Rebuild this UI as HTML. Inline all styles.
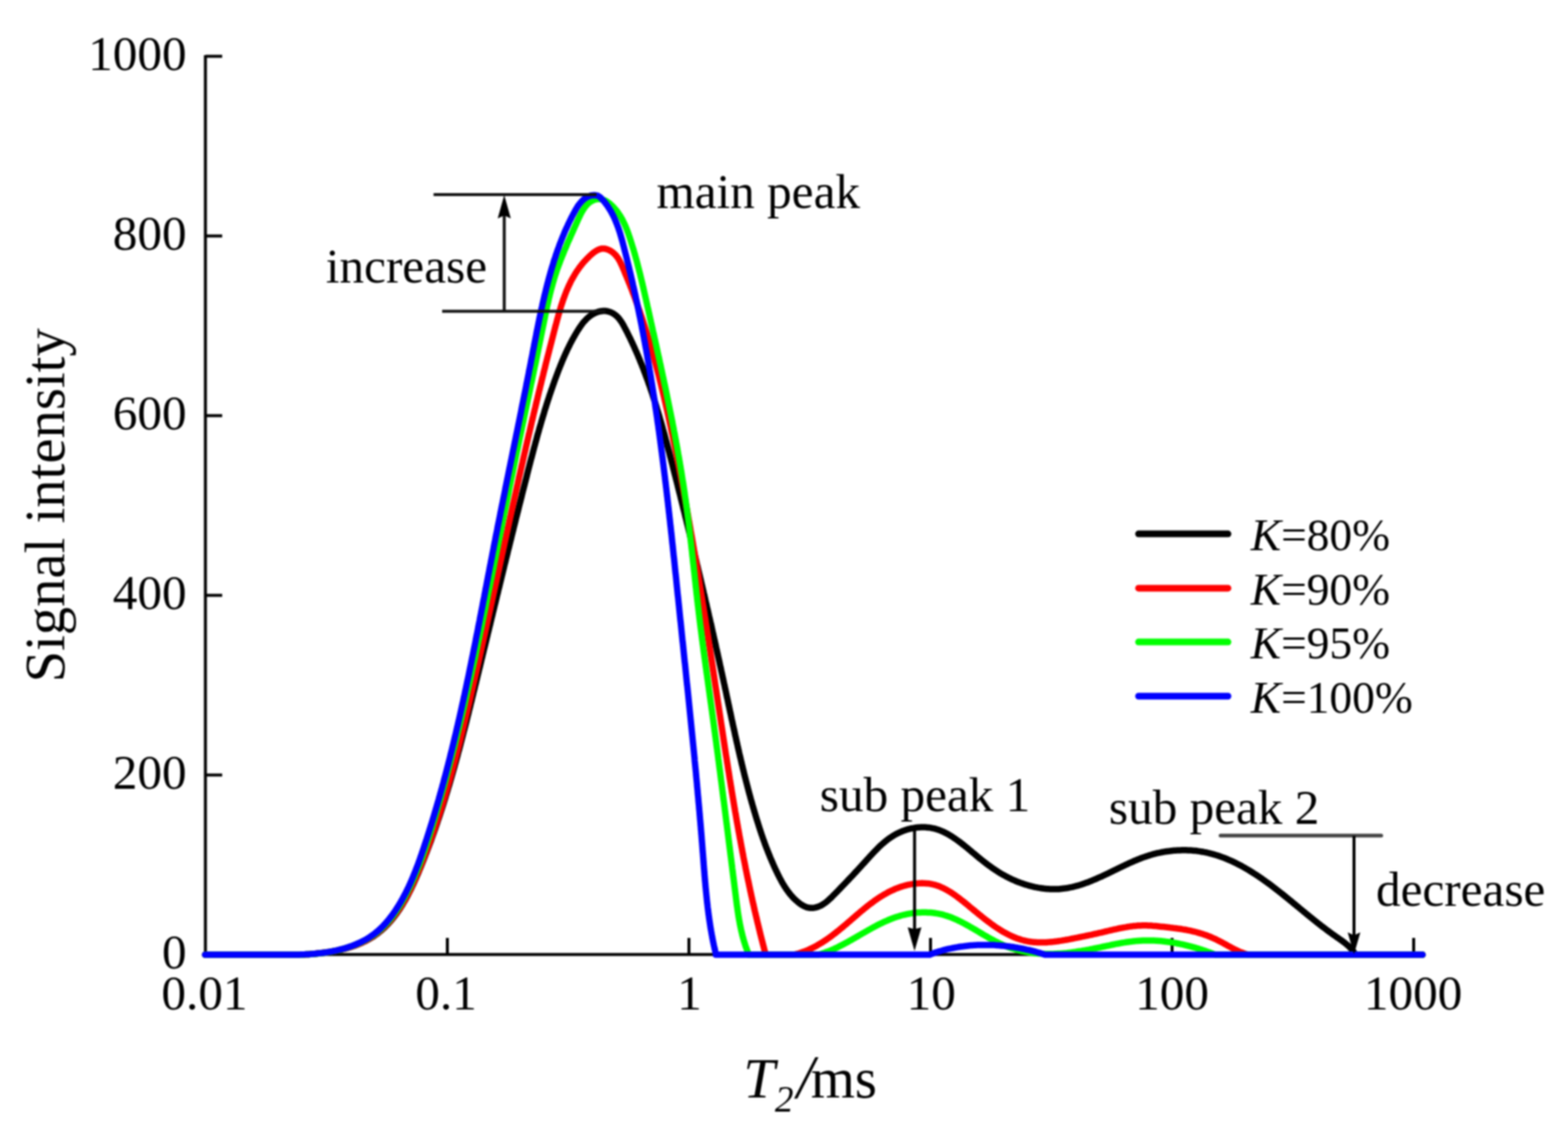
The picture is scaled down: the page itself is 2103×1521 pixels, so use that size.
<!DOCTYPE html>
<html><head><meta charset="utf-8"><title>T2 spectrum</title>
<style>html,body{margin:0;padding:0;background:#fff;width:2103px;height:1521px;overflow:hidden}svg{display:block}#wrap{filter:blur(1px)}</style>
</head><body><div id="wrap">
<svg width="2103" height="1521" viewBox="0 0 2103 1521">
<rect width="2103" height="1521" fill="#fff"/>
<g id="plot">
<path d="M275.5,74 V1280.3 H1897" fill="none" stroke="#000" stroke-width="4.0"/>
<path d="M275.5,1280.5 H298" stroke="#000" stroke-width="4.0"/>
<path d="M275.5,1039.5 H298" stroke="#000" stroke-width="4.0"/>
<path d="M275.5,798.5 H298" stroke="#000" stroke-width="4.0"/>
<path d="M275.5,557.5 H298" stroke="#000" stroke-width="4.0"/>
<path d="M275.5,316.5 H298" stroke="#000" stroke-width="4.0"/>
<path d="M275.5,75.5 H298" stroke="#000" stroke-width="4.0"/>
<path d="M600.0,1280.5 V1258" stroke="#000" stroke-width="4.0"/>
<path d="M924.0,1280.5 V1258" stroke="#000" stroke-width="4.0"/>
<path d="M1248.0,1280.5 V1258" stroke="#000" stroke-width="4.0"/>
<path d="M1572.0,1280.5 V1258" stroke="#000" stroke-width="4.0"/>
<path d="M1896.0,1280.5 V1258" stroke="#000" stroke-width="4.0"/>
<path d="M275.0,1280.5 L380.0,1280.5 L382.0,1280.5 L384.2,1280.5 L386.3,1280.5 L388.5,1280.5 L390.5,1280.5 L392.6,1280.5 L394.6,1280.5 L396.7,1280.5 L398.6,1280.4 L400.6,1280.4 L402.6,1280.4 L404.5,1280.3 L406.5,1280.2 L408.4,1280.2 L410.3,1280.1 L412.2,1280.0 L414.1,1279.9 L416.0,1279.8 L417.9,1279.7 L419.8,1279.5 L421.7,1279.4 L423.6,1279.2 L425.5,1279.0 L427.4,1278.8 L429.4,1278.6 L431.3,1278.4 L433.3,1278.1 L435.3,1277.9 L437.3,1277.6 L439.3,1277.3 L441.3,1277.0 L443.3,1276.6 L445.3,1276.3 L447.3,1275.9 L449.4,1275.5 L451.4,1275.1 L453.4,1274.7 L455.5,1274.2 L457.5,1273.7 L459.5,1273.2 L461.6,1272.7 L463.6,1272.2 L465.6,1271.6 L467.6,1271.0 L469.6,1270.4 L471.6,1269.8 L473.6,1269.1 L475.5,1268.4 L477.5,1267.7 L479.4,1267.0 L481.3,1266.2 L483.2,1265.4 L485.1,1264.6 L486.9,1263.7 L488.8,1262.9 L490.6,1262.0 L492.4,1261.0 L494.1,1260.1 L495.8,1259.1 L497.5,1258.1 L499.2,1257.0 L500.9,1256.0 L502.5,1254.8 L504.1,1253.7 L505.7,1252.6 L507.2,1251.4 L508.7,1250.2 L510.2,1249.0 L511.7,1247.7 L513.2,1246.4 L514.6,1245.1 L516.0,1243.8 L517.4,1242.4 L518.7,1241.1 L520.1,1239.7 L521.4,1238.3 L522.7,1236.8 L524.0,1235.4 L525.2,1233.9 L526.5,1232.4 L527.7,1230.9 L528.9,1229.4 L530.1,1227.8 L531.3,1226.2 L532.4,1224.7 L533.5,1223.1 L534.7,1221.4 L535.8,1219.8 L536.8,1218.2 L537.9,1216.5 L539.0,1214.8 L540.0,1213.1 L541.0,1211.4 L542.0,1209.7 L543.0,1208.0 L544.0,1206.3 L545.0,1204.5 L545.9,1202.8 L546.9,1201.0 L547.8,1199.2 L548.7,1197.4 L549.6,1195.6 L550.5,1193.8 L551.4,1192.0 L552.3,1190.2 L553.1,1188.3 L554.0,1186.5 L554.9,1184.7 L555.7,1182.8 L556.5,1181.0 L557.4,1179.1 L558.2,1177.3 L559.0,1175.4 L559.8,1173.5 L560.6,1171.7 L561.4,1169.8 L562.2,1167.9 L562.9,1166.0 L563.7,1164.2 L564.5,1162.3 L565.3,1160.4 L566.0,1158.5 L566.8,1156.6 L567.5,1154.8 L568.3,1152.9 L569.0,1151.0 L569.8,1149.1 L570.5,1147.2 L571.2,1145.3 L572.0,1143.5 L572.7,1141.6 L573.4,1139.7 L574.1,1137.8 L574.9,1135.9 L575.6,1134.0 L576.3,1132.1 L577.0,1130.2 L577.7,1128.4 L578.4,1126.5 L579.0,1124.6 L579.7,1122.7 L580.4,1120.8 L581.1,1118.9 L581.8,1117.0 L582.4,1115.1 L583.1,1113.2 L583.8,1111.3 L584.4,1109.4 L585.1,1107.5 L585.7,1105.6 L586.4,1103.7 L587.0,1101.8 L587.6,1099.9 L588.3,1098.0 L588.9,1096.1 L589.6,1094.2 L590.2,1092.3 L590.8,1090.4 L591.4,1088.5 L592.0,1086.6 L592.7,1084.7 L593.3,1082.8 L593.9,1080.9 L594.5,1079.0 L595.1,1077.1 L595.7,1075.1 L596.3,1073.2 L596.9,1071.3 L597.5,1069.4 L598.0,1067.5 L598.6,1065.6 L599.2,1063.7 L599.8,1061.8 L600.4,1059.9 L600.9,1057.9 L601.5,1056.0 L602.1,1054.1 L602.7,1052.2 L603.2,1050.3 L603.8,1048.4 L604.3,1046.5 L604.9,1044.5 L605.4,1042.6 L606.0,1040.7 L606.5,1038.8 L607.1,1036.9 L607.6,1034.9 L608.2,1033.0 L608.7,1031.1 L609.3,1029.2 L609.8,1027.3 L610.3,1025.3 L610.9,1023.4 L611.4,1021.5 L611.9,1019.6 L612.4,1017.7 L613.0,1015.7 L613.5,1013.8 L614.0,1011.9 L614.5,1010.0 L615.0,1008.0 L615.6,1006.1 L616.1,1004.2 L616.6,1002.2 L617.1,1000.3 L617.6,998.4 L618.1,996.5 L618.6,994.5 L619.1,992.6 L619.6,990.7 L620.1,988.7 L620.6,986.8 L621.1,984.9 L621.6,982.9 L622.1,981.0 L622.6,979.1 L623.1,977.2 L623.6,975.2 L624.1,973.3 L624.6,971.4 L625.1,969.4 L625.6,967.5 L626.0,965.6 L626.5,963.6 L627.0,961.7 L627.5,959.7 L628.0,957.8 L628.5,955.9 L628.9,953.9 L629.4,952.0 L629.9,950.1 L630.4,948.1 L630.9,946.2 L631.3,944.2 L631.8,942.3 L632.3,940.4 L632.8,938.4 L633.2,936.5 L633.7,934.6 L634.2,932.6 L634.7,930.7 L635.1,928.7 L635.6,926.8 L636.1,924.9 L636.6,922.9 L637.0,921.0 L637.5,919.0 L638.0,917.1 L638.5,915.1 L638.9,913.2 L639.4,911.3 L639.9,909.3 L640.3,907.4 L640.8,905.4 L641.3,903.5 L641.8,901.5 L642.2,899.6 L642.7,897.7 L643.2,895.7 L643.7,893.8 L644.1,891.8 L644.6,889.9 L645.1,887.9 L645.5,886.0 L646.0,884.0 L646.5,882.1 L647.0,880.1 L647.4,878.2 L647.9,876.3 L648.4,874.3 L648.8,872.4 L649.3,870.4 L649.8,868.5 L650.3,866.5 L650.7,864.6 L651.2,862.6 L651.7,860.7 L652.2,858.7 L652.6,856.8 L653.1,854.8 L653.6,852.9 L654.0,850.9 L654.5,849.0 L655.0,847.0 L655.5,845.1 L655.9,843.1 L656.4,841.2 L656.9,839.2 L657.4,837.3 L657.8,835.3 L658.3,833.4 L658.8,831.5 L659.2,829.5 L659.7,827.6 L660.2,825.6 L660.7,823.7 L661.1,821.7 L661.6,819.8 L662.1,817.8 L662.6,815.9 L663.0,813.9 L663.5,812.0 L664.0,810.0 L664.5,808.1 L664.9,806.1 L665.4,804.2 L665.9,802.2 L666.3,800.3 L666.8,798.3 L667.3,796.4 L667.8,794.4 L668.2,792.5 L668.7,790.5 L669.2,788.6 L669.7,786.6 L670.2,784.7 L670.6,782.7 L671.1,780.8 L671.6,778.8 L672.1,776.8 L672.5,774.9 L673.0,772.9 L673.5,771.0 L674.0,769.0 L674.4,767.1 L674.9,765.1 L675.4,763.2 L675.9,761.2 L676.3,759.3 L676.8,757.3 L677.3,755.4 L677.8,753.4 L678.3,751.5 L678.7,749.5 L679.2,747.6 L679.7,745.6 L680.2,743.7 L680.7,741.7 L681.1,739.8 L681.6,737.8 L682.1,735.9 L682.6,733.9 L683.1,732.0 L683.5,730.1 L684.0,728.1 L684.5,726.2 L685.0,724.2 L685.5,722.3 L685.9,720.3 L686.4,718.4 L686.9,716.4 L687.4,714.5 L687.9,712.5 L688.4,710.6 L688.8,708.6 L689.3,706.7 L689.8,704.7 L690.3,702.8 L690.8,700.8 L691.3,698.9 L691.7,696.9 L692.2,695.0 L692.7,693.0 L693.2,691.1 L693.7,689.1 L694.2,687.2 L694.7,685.3 L695.2,683.3 L695.6,681.4 L696.1,679.4 L696.6,677.5 L697.1,675.5 L697.6,673.6 L698.1,671.6 L698.6,669.7 L699.1,667.7 L699.6,665.8 L700.0,663.9 L700.5,661.9 L701.0,660.0 L701.5,658.0 L702.0,656.1 L702.5,654.1 L703.0,652.2 L703.5,650.3 L704.0,648.3 L704.5,646.4 L705.0,644.4 L705.5,642.5 L706.0,640.5 L706.5,638.6 L706.9,636.7 L707.4,634.7 L707.9,632.8 L708.4,630.8 L708.9,628.9 L709.4,627.0 L709.9,625.0 L710.4,623.1 L710.9,621.1 L711.4,619.2 L711.9,617.3 L712.4,615.3 L713.0,613.4 L713.5,611.5 L714.0,609.5 L714.5,607.6 L715.0,605.7 L715.5,603.7 L716.0,601.8 L716.5,599.9 L717.1,597.9 L717.6,596.0 L718.1,594.1 L718.6,592.1 L719.2,590.2 L719.7,588.3 L720.2,586.4 L720.7,584.4 L721.3,582.5 L721.8,580.6 L722.4,578.7 L722.9,576.7 L723.4,574.8 L724.0,572.9 L724.6,571.0 L725.1,569.1 L725.7,567.1 L726.2,565.2 L726.8,563.3 L727.4,561.4 L727.9,559.5 L728.5,557.6 L729.1,555.7 L729.7,553.7 L730.2,551.8 L730.8,549.9 L731.4,548.0 L732.0,546.1 L732.6,544.2 L733.2,542.3 L733.8,540.4 L734.4,538.5 L735.0,536.6 L735.7,534.7 L736.3,532.8 L736.9,530.9 L737.5,529.0 L738.2,527.1 L738.8,525.2 L739.5,523.3 L740.1,521.5 L740.8,519.6 L741.4,517.7 L742.1,515.8 L742.8,513.9 L743.4,512.0 L744.1,510.1 L744.8,508.3 L745.5,506.4 L746.2,504.5 L746.9,502.6 L747.6,500.8 L748.3,498.9 L749.0,497.0 L749.7,495.2 L750.5,493.3 L751.2,491.4 L752.0,489.6 L752.7,487.7 L753.5,485.9 L754.2,484.0 L755.0,482.2 L755.8,480.3 L756.6,478.5 L757.4,476.7 L758.2,474.8 L759.1,473.0 L759.9,471.2 L760.7,469.4 L761.6,467.6 L762.5,465.8 L763.4,464.0 L764.3,462.2 L765.2,460.4 L766.1,458.6 L767.1,456.8 L768.0,455.0 L769.0,453.3 L770.0,451.5 L771.0,449.8 L772.0,448.0 L773.1,446.3 L774.1,444.5 L775.2,442.8 L776.3,441.1 L777.4,439.4 L778.5,437.7 L779.7,436.1 L780.9,434.4 L782.1,432.8 L783.4,431.3 L784.8,429.8 L786.2,428.3 L787.6,426.9 L789.1,425.6 L790.7,424.3 L792.3,423.1 L794.0,422.0 L795.8,421.0 L797.7,420.0 L799.5,419.2 L801.5,418.5 L803.4,417.9 L805.4,417.5 L807.4,417.2 L809.4,417.0 L811.4,417.1 L813.4,417.3 L815.3,417.6 L817.2,418.2 L819.1,418.8 L820.9,419.7 L822.6,420.6 L824.3,421.7 L825.8,422.9 L827.2,424.1 L828.6,425.5 L829.9,426.9 L831.1,428.5 L832.3,430.1 L833.4,431.7 L834.5,433.4 L835.5,435.1 L836.5,436.9 L837.4,438.7 L838.4,440.5 L839.3,442.3 L840.3,444.1 L841.2,445.9 L842.1,447.8 L843.0,449.6 L843.9,451.4 L844.8,453.2 L845.7,455.0 L846.5,456.9 L847.4,458.7 L848.3,460.5 L849.1,462.4 L850.0,464.2 L850.8,466.0 L851.6,467.9 L852.4,469.7 L853.3,471.6 L854.1,473.4 L854.9,475.3 L855.7,477.1 L856.4,479.0 L857.2,480.8 L858.0,482.7 L858.7,484.6 L859.5,486.4 L860.3,488.3 L861.0,490.1 L861.7,492.0 L862.5,493.9 L863.2,495.8 L863.9,497.6 L864.6,499.5 L865.3,501.4 L866.0,503.3 L866.7,505.1 L867.4,507.0 L868.1,508.9 L868.8,510.8 L869.5,512.7 L870.1,514.6 L870.8,516.4 L871.5,518.3 L872.1,520.2 L872.7,522.1 L873.4,524.0 L874.0,525.9 L874.7,527.8 L875.3,529.7 L875.9,531.6 L876.5,533.5 L877.1,535.4 L877.8,537.3 L878.4,539.2 L879.0,541.1 L879.6,543.0 L880.2,544.9 L880.7,546.9 L881.3,548.8 L881.9,550.7 L882.5,552.6 L883.1,554.5 L883.6,556.4 L884.2,558.3 L884.8,560.3 L885.3,562.2 L885.9,564.1 L886.4,566.0 L887.0,567.9 L887.5,569.9 L888.1,571.8 L888.6,573.7 L889.1,575.6 L889.7,577.6 L890.2,579.5 L890.7,581.4 L891.3,583.3 L891.8,585.3 L892.3,587.2 L892.8,589.1 L893.4,591.1 L893.9,593.0 L894.4,594.9 L894.9,596.9 L895.4,598.8 L895.9,600.7 L896.4,602.7 L897.0,604.6 L897.5,606.5 L898.0,608.5 L898.5,610.4 L899.0,612.3 L899.5,614.3 L900.0,616.2 L900.5,618.1 L901.0,620.1 L901.5,622.0 L902.0,624.0 L902.5,625.9 L902.9,627.8 L903.4,629.8 L903.9,631.7 L904.4,633.6 L904.9,635.6 L905.4,637.5 L905.9,639.5 L906.4,641.4 L906.9,643.3 L907.4,645.3 L907.9,647.2 L908.4,649.2 L908.9,651.1 L909.3,653.0 L909.8,655.0 L910.3,656.9 L910.8,658.9 L911.3,660.8 L911.8,662.7 L912.3,664.7 L912.8,666.6 L913.2,668.6 L913.7,670.5 L914.2,672.4 L914.7,674.4 L915.2,676.3 L915.7,678.3 L916.1,680.2 L916.6,682.1 L917.1,684.1 L917.6,686.0 L918.1,688.0 L918.6,689.9 L919.0,691.9 L919.5,693.8 L920.0,695.7 L920.5,697.7 L921.0,699.6 L921.4,701.6 L921.9,703.5 L922.4,705.5 L922.9,707.4 L923.3,709.3 L923.8,711.3 L924.3,713.2 L924.8,715.2 L925.2,717.1 L925.7,719.1 L926.2,721.0 L926.7,723.0 L927.1,724.9 L927.6,726.8 L928.1,728.8 L928.5,730.7 L929.0,732.7 L929.5,734.6 L930.0,736.6 L930.4,738.5 L930.9,740.5 L931.4,742.4 L931.8,744.4 L932.3,746.3 L932.8,748.2 L933.2,750.2 L933.7,752.1 L934.2,754.1 L934.6,756.0 L935.1,758.0 L935.6,759.9 L936.0,761.9 L936.5,763.8 L936.9,765.8 L937.4,767.7 L937.9,769.7 L938.3,771.6 L938.8,773.6 L939.3,775.5 L939.7,777.5 L940.2,779.4 L940.6,781.4 L941.1,783.3 L941.5,785.3 L942.0,787.2 L942.5,789.2 L942.9,791.1 L943.4,793.1 L943.8,795.0 L944.3,797.0 L944.7,798.9 L945.2,800.9 L945.6,802.8 L946.1,804.8 L946.5,806.7 L947.0,808.7 L947.4,810.6 L947.9,812.6 L948.3,814.5 L948.8,816.5 L949.2,818.4 L949.7,820.4 L950.1,822.3 L950.6,824.3 L951.0,826.2 L951.5,828.2 L951.9,830.1 L952.4,832.1 L952.8,834.0 L953.3,836.0 L953.7,837.9 L954.2,839.9 L954.6,841.9 L955.0,843.8 L955.5,845.8 L955.9,847.7 L956.4,849.7 L956.8,851.6 L957.2,853.6 L957.7,855.5 L958.1,857.5 L958.6,859.4 L959.0,861.4 L959.4,863.4 L959.9,865.3 L960.3,867.3 L960.7,869.2 L961.2,871.2 L961.6,873.1 L962.0,875.1 L962.5,877.1 L962.9,879.0 L963.3,881.0 L963.8,882.9 L964.2,884.9 L964.6,886.8 L965.1,888.8 L965.5,890.8 L965.9,892.7 L966.4,894.7 L966.8,896.6 L967.2,898.6 L967.6,900.5 L968.1,902.5 L968.5,904.5 L968.9,906.4 L969.3,908.4 L969.8,910.3 L970.2,912.3 L970.6,914.3 L971.0,916.2 L971.5,918.2 L971.9,920.1 L972.3,922.1 L972.7,924.1 L973.2,926.0 L973.6,928.0 L974.0,929.9 L974.4,931.9 L974.8,933.9 L975.2,935.8 L975.7,937.8 L976.1,939.7 L976.5,941.7 L976.9,943.7 L977.3,945.6 L977.8,947.6 L978.2,949.6 L978.6,951.5 L979.0,953.5 L979.4,955.4 L979.9,957.4 L980.3,959.4 L980.7,961.3 L981.1,963.3 L981.5,965.2 L982.0,967.2 L982.4,969.2 L982.8,971.1 L983.2,973.1 L983.7,975.0 L984.1,977.0 L984.5,978.9 L985.0,980.9 L985.4,982.9 L985.8,984.8 L986.2,986.8 L986.7,988.7 L987.1,990.7 L987.5,992.6 L988.0,994.6 L988.4,996.6 L988.9,998.5 L989.3,1000.5 L989.7,1002.4 L990.2,1004.4 L990.6,1006.3 L991.1,1008.3 L991.5,1010.2 L992.0,1012.2 L992.4,1014.1 L992.9,1016.1 L993.4,1018.0 L993.8,1020.0 L994.3,1021.9 L994.7,1023.9 L995.2,1025.8 L995.7,1027.7 L996.1,1029.7 L996.6,1031.6 L997.1,1033.6 L997.6,1035.5 L998.0,1037.5 L998.5,1039.4 L999.0,1041.3 L999.5,1043.3 L1000.0,1045.2 L1000.5,1047.2 L1001.0,1049.1 L1001.5,1051.0 L1002.0,1053.0 L1002.5,1054.9 L1003.0,1056.8 L1003.5,1058.8 L1004.0,1060.7 L1004.5,1062.6 L1005.0,1064.5 L1005.6,1066.5 L1006.1,1068.4 L1006.6,1070.3 L1007.1,1072.3 L1007.7,1074.2 L1008.2,1076.1 L1008.8,1078.0 L1009.3,1079.9 L1009.9,1081.9 L1010.4,1083.8 L1011.0,1085.7 L1011.5,1087.6 L1012.1,1089.5 L1012.7,1091.4 L1013.2,1093.3 L1013.8,1095.3 L1014.4,1097.2 L1015.0,1099.1 L1015.6,1101.0 L1016.2,1102.9 L1016.8,1104.8 L1017.4,1106.7 L1018.0,1108.6 L1018.6,1110.5 L1019.2,1112.4 L1019.8,1114.3 L1020.5,1116.2 L1021.1,1118.1 L1021.7,1119.9 L1022.4,1121.8 L1023.0,1123.7 L1023.7,1125.6 L1024.4,1127.5 L1025.1,1129.4 L1025.7,1131.3 L1026.4,1133.1 L1027.1,1135.0 L1027.8,1136.9 L1028.6,1138.7 L1029.3,1140.6 L1030.0,1142.5 L1030.8,1144.4 L1031.5,1146.2 L1032.3,1148.1 L1033.0,1149.9 L1033.8,1151.8 L1034.6,1153.6 L1035.4,1155.5 L1036.2,1157.3 L1037.0,1159.2 L1037.8,1161.0 L1038.7,1162.9 L1039.5,1164.7 L1040.4,1166.6 L1041.2,1168.4 L1042.1,1170.2 L1043.0,1172.1 L1043.9,1173.9 L1044.8,1175.7 L1045.7,1177.5 L1046.7,1179.3 L1047.7,1181.1 L1048.6,1182.9 L1049.6,1184.6 L1050.7,1186.4 L1051.7,1188.1 L1052.8,1189.8 L1053.9,1191.5 L1055.0,1193.1 L1056.2,1194.8 L1057.4,1196.4 L1058.6,1198.0 L1059.8,1199.5 L1061.1,1201.0 L1062.4,1202.5 L1063.8,1204.0 L1065.2,1205.4 L1066.6,1206.8 L1068.1,1208.1 L1069.6,1209.4 L1071.1,1210.7 L1072.7,1211.9 L1074.3,1213.0 L1076.0,1214.1 L1077.7,1215.0 L1079.5,1215.9 L1081.3,1216.6 L1083.1,1217.2 L1085.0,1217.6 L1086.9,1217.8 L1088.8,1217.8 L1090.7,1217.7 L1092.7,1217.4 L1094.6,1217.0 L1096.5,1216.4 L1098.4,1215.7 L1100.3,1214.9 L1102.0,1214.0 L1103.8,1212.9 L1105.5,1211.8 L1107.2,1210.6 L1108.8,1209.4 L1110.4,1208.0 L1111.9,1206.6 L1113.4,1205.2 L1115.0,1203.8 L1116.4,1202.3 L1117.9,1200.8 L1119.4,1199.3 L1120.8,1197.8 L1122.2,1196.4 L1123.7,1194.9 L1125.1,1193.4 L1126.5,1192.0 L1127.9,1190.5 L1129.3,1189.1 L1130.7,1187.6 L1132.1,1186.2 L1133.4,1184.8 L1134.8,1183.3 L1136.2,1181.9 L1137.5,1180.5 L1138.9,1179.0 L1140.2,1177.6 L1141.6,1176.2 L1142.9,1174.8 L1144.3,1173.3 L1145.6,1171.9 L1146.9,1170.5 L1148.3,1169.0 L1149.6,1167.6 L1151.0,1166.1 L1152.3,1164.7 L1153.6,1163.2 L1155.0,1161.8 L1156.3,1160.3 L1157.6,1158.8 L1159.0,1157.4 L1160.3,1155.9 L1161.7,1154.4 L1163.0,1152.9 L1164.4,1151.4 L1165.8,1149.9 L1167.1,1148.3 L1168.5,1146.8 L1169.9,1145.3 L1171.3,1143.8 L1172.7,1142.4 L1174.1,1140.9 L1175.6,1139.4 L1177.0,1138.0 L1178.5,1136.5 L1179.9,1135.1 L1181.4,1133.7 L1182.9,1132.4 L1184.5,1131.0 L1186.0,1129.7 L1187.6,1128.4 L1189.1,1127.2 L1190.7,1125.9 L1192.4,1124.7 L1194.0,1123.6 L1195.7,1122.5 L1197.4,1121.4 L1199.1,1120.3 L1200.8,1119.3 L1202.6,1118.4 L1204.4,1117.5 L1206.2,1116.6 L1208.0,1115.8 L1209.9,1115.0 L1211.8,1114.3 L1213.6,1113.6 L1215.5,1113.0 L1217.4,1112.4 L1219.4,1111.9 L1221.3,1111.4 L1223.2,1111.0 L1225.2,1110.7 L1227.1,1110.3 L1229.1,1110.1 L1231.0,1109.8 L1233.0,1109.7 L1234.9,1109.6 L1236.9,1109.5 L1238.8,1109.5 L1240.8,1109.6 L1242.7,1109.7 L1244.7,1109.9 L1246.6,1110.1 L1248.5,1110.4 L1250.4,1110.8 L1252.3,1111.2 L1254.2,1111.7 L1256.0,1112.2 L1257.9,1112.8 L1259.7,1113.4 L1261.5,1114.1 L1263.3,1114.9 L1265.1,1115.7 L1266.9,1116.5 L1268.7,1117.4 L1270.4,1118.3 L1272.2,1119.3 L1273.9,1120.3 L1275.6,1121.4 L1277.3,1122.4 L1279.0,1123.6 L1280.7,1124.7 L1282.4,1125.9 L1284.1,1127.1 L1285.7,1128.3 L1287.4,1129.5 L1289.1,1130.8 L1290.7,1132.1 L1292.3,1133.4 L1294.0,1134.7 L1295.6,1136.0 L1297.2,1137.3 L1298.8,1138.6 L1300.4,1140.0 L1302.0,1141.3 L1303.6,1142.7 L1305.2,1144.0 L1306.8,1145.3 L1308.4,1146.6 L1310.0,1148.0 L1311.5,1149.3 L1313.1,1150.6 L1314.7,1151.9 L1316.3,1153.1 L1317.8,1154.4 L1319.4,1155.6 L1321.0,1156.8 L1322.6,1158.1 L1324.1,1159.3 L1325.7,1160.4 L1327.3,1161.6 L1328.9,1162.7 L1330.5,1163.9 L1332.1,1165.0 L1333.7,1166.1 L1335.3,1167.2 L1337.0,1168.2 L1338.6,1169.3 L1340.3,1170.3 L1341.9,1171.3 L1343.6,1172.3 L1345.3,1173.3 L1347.0,1174.2 L1348.7,1175.2 L1350.5,1176.1 L1352.2,1177.0 L1354.0,1177.9 L1355.7,1178.7 L1357.5,1179.6 L1359.4,1180.4 L1361.2,1181.2 L1363.0,1182.0 L1364.9,1182.7 L1366.8,1183.4 L1368.7,1184.2 L1370.6,1184.8 L1372.5,1185.5 L1374.4,1186.1 L1376.3,1186.7 L1378.3,1187.3 L1380.2,1187.9 L1382.2,1188.4 L1384.2,1188.9 L1386.1,1189.3 L1388.1,1189.8 L1390.1,1190.2 L1392.1,1190.6 L1394.1,1190.9 L1396.1,1191.2 L1398.1,1191.5 L1400.1,1191.8 L1402.1,1192.0 L1404.1,1192.2 L1406.1,1192.3 L1408.1,1192.4 L1410.1,1192.5 L1412.1,1192.6 L1414.1,1192.6 L1416.1,1192.5 L1418.1,1192.5 L1420.1,1192.4 L1422.1,1192.2 L1424.1,1192.0 L1426.0,1191.8 L1428.0,1191.6 L1430.0,1191.3 L1431.9,1191.0 L1433.9,1190.6 L1435.8,1190.2 L1437.8,1189.8 L1439.7,1189.3 L1441.6,1188.9 L1443.6,1188.3 L1445.5,1187.8 L1447.4,1187.3 L1449.3,1186.7 L1451.2,1186.1 L1453.1,1185.4 L1455.0,1184.8 L1456.9,1184.1 L1458.8,1183.4 L1460.7,1182.7 L1462.5,1181.9 L1464.4,1181.2 L1466.3,1180.4 L1468.1,1179.6 L1470.0,1178.9 L1471.8,1178.0 L1473.7,1177.2 L1475.5,1176.4 L1477.4,1175.6 L1479.2,1174.7 L1481.0,1173.9 L1482.8,1173.0 L1484.7,1172.1 L1486.5,1171.3 L1488.3,1170.4 L1490.1,1169.5 L1491.9,1168.6 L1493.7,1167.7 L1495.5,1166.9 L1497.3,1166.0 L1499.1,1165.1 L1500.9,1164.2 L1502.7,1163.4 L1504.5,1162.5 L1506.3,1161.6 L1508.1,1160.8 L1509.9,1159.9 L1511.7,1159.1 L1513.5,1158.2 L1515.3,1157.4 L1517.1,1156.6 L1518.9,1155.8 L1520.7,1155.0 L1522.6,1154.2 L1524.4,1153.5 L1526.2,1152.7 L1528.1,1152.0 L1529.9,1151.3 L1531.8,1150.6 L1533.6,1149.9 L1535.5,1149.2 L1537.4,1148.6 L1539.3,1148.0 L1541.2,1147.4 L1543.1,1146.8 L1545.0,1146.2 L1546.9,1145.7 L1548.9,1145.2 L1550.8,1144.7 L1552.8,1144.2 L1554.8,1143.8 L1556.8,1143.4 L1558.7,1143.0 L1560.7,1142.6 L1562.7,1142.3 L1564.7,1142.0 L1566.7,1141.7 L1568.8,1141.5 L1570.8,1141.2 L1572.8,1141.0 L1574.8,1140.8 L1576.9,1140.7 L1578.9,1140.6 L1580.9,1140.5 L1582.9,1140.4 L1585.0,1140.3 L1587.0,1140.3 L1589.0,1140.3 L1591.1,1140.3 L1593.1,1140.4 L1595.1,1140.5 L1597.1,1140.6 L1599.1,1140.7 L1601.1,1140.9 L1603.1,1141.1 L1605.1,1141.3 L1607.1,1141.6 L1609.1,1141.9 L1611.0,1142.2 L1613.0,1142.5 L1615.0,1142.9 L1616.9,1143.2 L1618.8,1143.7 L1620.8,1144.1 L1622.7,1144.6 L1624.6,1145.1 L1626.5,1145.6 L1628.4,1146.1 L1630.3,1146.7 L1632.2,1147.3 L1634.1,1147.9 L1635.9,1148.5 L1637.8,1149.2 L1639.6,1149.9 L1641.5,1150.6 L1643.3,1151.3 L1645.2,1152.0 L1647.0,1152.8 L1648.8,1153.6 L1650.6,1154.4 L1652.4,1155.2 L1654.2,1156.0 L1656.0,1156.9 L1657.8,1157.8 L1659.6,1158.7 L1661.3,1159.6 L1663.1,1160.5 L1664.9,1161.4 L1666.6,1162.4 L1668.4,1163.4 L1670.1,1164.4 L1671.8,1165.4 L1673.6,1166.4 L1675.3,1167.4 L1677.0,1168.5 L1678.7,1169.5 L1680.4,1170.6 L1682.1,1171.7 L1683.8,1172.8 L1685.5,1173.9 L1687.2,1175.0 L1688.9,1176.1 L1690.5,1177.3 L1692.2,1178.4 L1693.8,1179.6 L1695.5,1180.8 L1697.1,1181.9 L1698.8,1183.1 L1700.4,1184.3 L1702.1,1185.5 L1703.7,1186.7 L1705.3,1187.9 L1706.9,1189.2 L1708.5,1190.4 L1710.1,1191.6 L1711.7,1192.9 L1713.3,1194.1 L1714.9,1195.3 L1716.5,1196.6 L1718.1,1197.8 L1719.7,1199.1 L1721.3,1200.4 L1722.8,1201.6 L1724.4,1202.9 L1726.0,1204.2 L1727.5,1205.4 L1729.1,1206.7 L1730.6,1208.0 L1732.2,1209.2 L1733.7,1210.5 L1735.2,1211.8 L1736.8,1213.0 L1738.3,1214.3 L1739.9,1215.6 L1741.4,1216.8 L1742.9,1218.1 L1744.4,1219.4 L1746.0,1220.6 L1747.5,1221.9 L1749.0,1223.2 L1750.6,1224.4 L1752.1,1225.7 L1753.6,1226.9 L1755.2,1228.2 L1756.7,1229.4 L1758.2,1230.7 L1759.8,1231.9 L1761.3,1233.2 L1762.9,1234.4 L1764.4,1235.7 L1766.0,1236.9 L1767.5,1238.1 L1769.1,1239.3 L1770.7,1240.6 L1772.2,1241.8 L1773.8,1243.0 L1775.4,1244.2 L1777.0,1245.4 L1778.6,1246.6 L1780.2,1247.8 L1781.8,1249.0 L1783.4,1250.2 L1785.1,1251.4 L1786.7,1252.6 L1788.3,1253.8 L1790.0,1254.9 L1791.7,1256.1 L1793.3,1257.3 L1795.0,1258.4 L1796.7,1259.6 L1798.3,1260.8 L1800.0,1261.9 L1801.6,1263.2 L1803.2,1264.4 L1804.8,1265.6 L1806.3,1266.9 L1807.9,1268.2 L1809.3,1269.6 L1810.7,1271.0 L1812.1,1272.4 L1813.4,1273.9 L1814.7,1275.5 L1815.8,1277.1 L1816.9,1278.8 L1818.0,1280.5 L1908.0,1280.5" fill="none" stroke="#000" stroke-width="8.5" stroke-linejoin="round" stroke-linecap="round"/>
<path d="M275.0,1280.5 L380.0,1280.5 L382.0,1280.5 L384.1,1280.5 L386.1,1280.5 L388.1,1280.5 L390.2,1280.5 L392.2,1280.5 L394.2,1280.5 L396.2,1280.5 L398.2,1280.5 L400.2,1280.5 L402.2,1280.5 L404.2,1280.5 L406.2,1280.4 L408.1,1280.3 L410.1,1280.2 L412.1,1280.1 L414.1,1279.9 L416.0,1279.8 L418.0,1279.6 L420.0,1279.4 L421.9,1279.2 L423.9,1279.0 L425.9,1278.8 L427.9,1278.6 L429.8,1278.3 L431.8,1278.1 L433.8,1277.8 L435.8,1277.5 L437.8,1277.3 L439.8,1277.0 L441.8,1276.7 L443.8,1276.3 L445.8,1276.0 L447.8,1275.6 L449.8,1275.3 L451.8,1274.9 L453.7,1274.5 L455.7,1274.0 L457.7,1273.6 L459.7,1273.1 L461.6,1272.6 L463.6,1272.1 L465.5,1271.6 L467.5,1271.0 L469.4,1270.4 L471.3,1269.8 L473.2,1269.2 L475.1,1268.5 L477.0,1267.8 L478.9,1267.1 L480.8,1266.4 L482.6,1265.6 L484.4,1264.8 L486.2,1263.9 L488.0,1263.1 L489.8,1262.2 L491.6,1261.2 L493.3,1260.3 L495.0,1259.2 L496.7,1258.2 L498.4,1257.1 L500.0,1256.0 L501.7,1254.9 L503.3,1253.7 L504.9,1252.5 L506.5,1251.3 L508.0,1250.0 L509.6,1248.7 L511.1,1247.4 L512.6,1246.1 L514.0,1244.7 L515.5,1243.3 L516.9,1241.9 L518.3,1240.5 L519.7,1239.0 L521.1,1237.6 L522.4,1236.1 L523.8,1234.6 L525.1,1233.0 L526.4,1231.5 L527.6,1229.9 L528.9,1228.4 L530.1,1226.8 L531.3,1225.2 L532.5,1223.6 L533.6,1221.9 L534.8,1220.3 L535.9,1218.6 L537.0,1217.0 L538.1,1215.3 L539.1,1213.6 L540.2,1211.9 L541.2,1210.2 L542.2,1208.5 L543.2,1206.8 L544.2,1205.0 L545.1,1203.3 L546.1,1201.5 L547.0,1199.8 L548.0,1198.0 L548.9,1196.2 L549.8,1194.4 L550.7,1192.6 L551.5,1190.8 L552.4,1189.0 L553.2,1187.2 L554.1,1185.4 L554.9,1183.6 L555.7,1181.7 L556.6,1179.9 L557.4,1178.1 L558.2,1176.2 L559.0,1174.4 L559.7,1172.5 L560.5,1170.7 L561.3,1168.8 L562.1,1167.0 L562.8,1165.1 L563.6,1163.3 L564.3,1161.4 L565.1,1159.6 L565.8,1157.7 L566.6,1155.8 L567.3,1154.0 L568.0,1152.1 L568.8,1150.2 L569.5,1148.4 L570.2,1146.5 L570.9,1144.6 L571.6,1142.8 L572.4,1140.9 L573.1,1139.0 L573.8,1137.1 L574.5,1135.3 L575.1,1133.4 L575.8,1131.5 L576.5,1129.6 L577.2,1127.7 L577.9,1125.8 L578.6,1124.0 L579.2,1122.1 L579.9,1120.2 L580.6,1118.3 L581.2,1116.4 L581.9,1114.5 L582.5,1112.6 L583.2,1110.7 L583.8,1108.8 L584.5,1106.9 L585.1,1105.0 L585.7,1103.1 L586.4,1101.2 L587.0,1099.3 L587.6,1097.4 L588.2,1095.5 L588.8,1093.6 L589.5,1091.7 L590.1,1089.8 L590.7,1087.9 L591.3,1086.0 L591.9,1084.1 L592.5,1082.2 L593.1,1080.2 L593.7,1078.3 L594.3,1076.4 L594.8,1074.5 L595.4,1072.6 L596.0,1070.7 L596.6,1068.8 L597.2,1066.8 L597.7,1064.9 L598.3,1063.0 L598.9,1061.1 L599.4,1059.1 L600.0,1057.2 L600.5,1055.3 L601.1,1053.4 L601.7,1051.4 L602.2,1049.5 L602.8,1047.6 L603.3,1045.7 L603.8,1043.7 L604.4,1041.8 L604.9,1039.9 L605.5,1037.9 L606.0,1036.0 L606.5,1034.1 L607.0,1032.1 L607.6,1030.2 L608.1,1028.3 L608.6,1026.3 L609.1,1024.4 L609.7,1022.5 L610.2,1020.5 L610.7,1018.6 L611.2,1016.6 L611.7,1014.7 L612.2,1012.8 L612.7,1010.8 L613.2,1008.9 L613.7,1006.9 L614.2,1005.0 L614.7,1003.1 L615.2,1001.1 L615.7,999.2 L616.2,997.2 L616.7,995.3 L617.2,993.3 L617.7,991.4 L618.1,989.4 L618.6,987.5 L619.1,985.5 L619.6,983.6 L620.1,981.6 L620.5,979.7 L621.0,977.7 L621.5,975.8 L622.0,973.8 L622.4,971.9 L622.9,969.9 L623.4,968.0 L623.8,966.0 L624.3,964.1 L624.8,962.1 L625.2,960.2 L625.7,958.2 L626.2,956.3 L626.6,954.3 L627.1,952.4 L627.5,950.4 L628.0,948.5 L628.4,946.5 L628.9,944.6 L629.4,942.6 L629.8,940.7 L630.3,938.7 L630.7,936.7 L631.2,934.8 L631.6,932.8 L632.1,930.9 L632.5,928.9 L633.0,927.0 L633.4,925.0 L633.9,923.1 L634.3,921.1 L634.7,919.2 L635.2,917.2 L635.6,915.2 L636.1,913.3 L636.5,911.3 L637.0,909.4 L637.4,907.4 L637.8,905.5 L638.3,903.5 L638.7,901.6 L639.2,899.6 L639.6,897.7 L640.0,895.7 L640.5,893.7 L640.9,891.8 L641.4,889.8 L641.8,887.9 L642.2,885.9 L642.7,884.0 L643.1,882.0 L643.5,880.1 L644.0,878.1 L644.4,876.2 L644.9,874.2 L645.3,872.2 L645.7,870.3 L646.2,868.3 L646.6,866.4 L647.0,864.4 L647.5,862.5 L647.9,860.5 L648.3,858.6 L648.8,856.6 L649.2,854.7 L649.6,852.7 L650.1,850.7 L650.5,848.8 L650.9,846.8 L651.3,844.9 L651.8,842.9 L652.2,841.0 L652.6,839.0 L653.1,837.1 L653.5,835.1 L653.9,833.2 L654.4,831.2 L654.8,829.2 L655.2,827.3 L655.6,825.3 L656.1,823.4 L656.5,821.4 L656.9,819.5 L657.4,817.5 L657.8,815.6 L658.2,813.6 L658.6,811.7 L659.1,809.7 L659.5,807.8 L659.9,805.8 L660.3,803.8 L660.8,801.9 L661.2,799.9 L661.6,798.0 L662.0,796.0 L662.5,794.1 L662.9,792.1 L663.3,790.2 L663.8,788.2 L664.2,786.3 L664.6,784.3 L665.0,782.3 L665.5,780.4 L665.9,778.4 L666.3,776.5 L666.7,774.5 L667.2,772.6 L667.6,770.6 L668.0,768.7 L668.4,766.7 L668.9,764.8 L669.3,762.8 L669.7,760.9 L670.1,758.9 L670.6,757.0 L671.0,755.0 L671.4,753.0 L671.8,751.1 L672.3,749.1 L672.7,747.2 L673.1,745.2 L673.5,743.3 L674.0,741.3 L674.4,739.4 L674.8,737.4 L675.2,735.5 L675.7,733.5 L676.1,731.6 L676.5,729.6 L676.9,727.6 L677.4,725.7 L677.8,723.7 L678.2,721.8 L678.7,719.8 L679.1,717.9 L679.5,715.9 L679.9,714.0 L680.4,712.0 L680.8,710.1 L681.2,708.1 L681.6,706.2 L682.1,704.2 L682.5,702.3 L682.9,700.3 L683.4,698.3 L683.8,696.4 L684.2,694.4 L684.6,692.5 L685.1,690.5 L685.5,688.6 L685.9,686.6 L686.4,684.7 L686.8,682.7 L687.2,680.8 L687.7,678.8 L688.1,676.9 L688.5,674.9 L689.0,673.0 L689.4,671.0 L689.8,669.0 L690.3,667.1 L690.7,665.1 L691.1,663.2 L691.6,661.2 L692.0,659.3 L692.4,657.3 L692.9,655.4 L693.3,653.4 L693.7,651.5 L694.2,649.5 L694.6,647.6 L695.0,645.6 L695.5,643.7 L695.9,641.7 L696.3,639.7 L696.8,637.8 L697.2,635.8 L697.7,633.9 L698.1,631.9 L698.5,630.0 L699.0,628.0 L699.4,626.1 L699.9,624.1 L700.3,622.2 L700.8,620.2 L701.2,618.3 L701.6,616.3 L702.1,614.4 L702.5,612.4 L703.0,610.5 L703.4,608.5 L703.9,606.5 L704.3,604.6 L704.8,602.6 L705.2,600.7 L705.6,598.7 L706.1,596.8 L706.5,594.8 L707.0,592.9 L707.4,590.9 L707.9,589.0 L708.3,587.0 L708.8,585.1 L709.2,583.1 L709.7,581.2 L710.2,579.2 L710.6,577.3 L711.1,575.3 L711.5,573.3 L712.0,571.4 L712.4,569.4 L712.9,567.5 L713.3,565.5 L713.8,563.6 L714.3,561.6 L714.7,559.7 L715.2,557.7 L715.6,555.8 L716.1,553.8 L716.6,551.9 L717.0,549.9 L717.5,548.0 L718.0,546.0 L718.4,544.1 L718.9,542.1 L719.4,540.1 L719.8,538.2 L720.3,536.2 L720.8,534.3 L721.2,532.3 L721.7,530.4 L722.2,528.4 L722.6,526.5 L723.1,524.5 L723.6,522.6 L724.1,520.6 L724.5,518.7 L725.0,516.7 L725.5,514.8 L726.0,512.8 L726.4,510.9 L726.9,508.9 L727.4,506.9 L727.9,505.0 L728.4,503.0 L728.8,501.1 L729.3,499.1 L729.8,497.2 L730.3,495.2 L730.8,493.3 L731.3,491.3 L731.7,489.4 L732.2,487.4 L732.7,485.5 L733.2,483.5 L733.7,481.6 L734.2,479.6 L734.7,477.7 L735.2,475.7 L735.7,473.7 L736.2,471.8 L736.7,469.8 L737.2,467.9 L737.7,465.9 L738.2,464.0 L738.7,462.0 L739.2,460.1 L739.7,458.1 L740.2,456.2 L740.7,454.2 L741.2,452.3 L741.7,450.3 L742.2,448.4 L742.7,446.4 L743.2,444.5 L743.7,442.5 L744.2,440.6 L744.7,438.6 L745.2,436.6 L745.8,434.7 L746.3,432.7 L746.8,430.8 L747.3,428.8 L747.9,426.9 L748.4,425.0 L748.9,423.0 L749.5,421.1 L750.0,419.1 L750.6,417.2 L751.2,415.3 L751.7,413.4 L752.3,411.4 L752.9,409.5 L753.5,407.6 L754.2,405.7 L754.8,403.8 L755.4,401.9 L756.1,400.1 L756.8,398.2 L757.5,396.3 L758.2,394.5 L758.9,392.6 L759.6,390.8 L760.4,389.0 L761.2,387.1 L762.0,385.3 L762.8,383.5 L763.6,381.7 L764.5,380.0 L765.3,378.2 L766.2,376.4 L767.2,374.7 L768.1,373.0 L769.1,371.3 L770.1,369.6 L771.1,367.9 L772.1,366.2 L773.2,364.5 L774.3,362.9 L775.4,361.3 L776.6,359.6 L777.7,358.0 L779.0,356.5 L780.2,354.9 L781.5,353.3 L782.8,351.8 L784.1,350.3 L785.5,348.8 L786.9,347.3 L788.3,345.9 L789.8,344.4 L791.3,343.0 L792.8,341.6 L794.4,340.2 L796.0,338.9 L797.7,337.7 L799.4,336.6 L801.1,335.6 L802.9,334.7 L804.7,334.1 L806.5,333.6 L808.4,333.4 L810.3,333.5 L812.3,333.8 L814.2,334.3 L816.1,335.1 L818.0,336.0 L819.8,337.1 L821.5,338.3 L823.1,339.6 L824.6,341.0 L826.0,342.5 L827.2,344.0 L828.4,345.6 L829.5,347.3 L830.5,349.0 L831.5,350.8 L832.4,352.6 L833.2,354.4 L834.1,356.3 L834.9,358.1 L835.7,360.0 L836.5,361.8 L837.3,363.7 L838.0,365.6 L838.8,367.4 L839.6,369.3 L840.4,371.2 L841.1,373.0 L841.9,374.9 L842.7,376.8 L843.4,378.7 L844.2,380.5 L844.9,382.4 L845.6,384.3 L846.4,386.2 L847.1,388.0 L847.8,389.9 L848.5,391.8 L849.2,393.7 L850.0,395.6 L850.7,397.5 L851.4,399.4 L852.1,401.2 L852.7,403.1 L853.4,405.0 L854.1,406.9 L854.8,408.8 L855.5,410.7 L856.1,412.6 L856.8,414.5 L857.5,416.4 L858.1,418.3 L858.8,420.2 L859.4,422.1 L860.1,424.0 L860.7,425.9 L861.3,427.8 L862.0,429.7 L862.6,431.6 L863.2,433.5 L863.8,435.4 L864.4,437.3 L865.1,439.2 L865.7,441.2 L866.3,443.1 L866.9,445.0 L867.5,446.9 L868.1,448.8 L868.6,450.7 L869.2,452.6 L869.8,454.6 L870.4,456.5 L871.0,458.4 L871.5,460.3 L872.1,462.2 L872.7,464.2 L873.2,466.1 L873.8,468.0 L874.3,469.9 L874.9,471.9 L875.4,473.8 L876.0,475.7 L876.5,477.6 L877.1,479.6 L877.6,481.5 L878.1,483.4 L878.6,485.4 L879.2,487.3 L879.7,489.2 L880.2,491.2 L880.7,493.1 L881.2,495.0 L881.7,497.0 L882.3,498.9 L882.8,500.8 L883.3,502.8 L883.8,504.7 L884.3,506.7 L884.7,508.6 L885.2,510.5 L885.7,512.5 L886.2,514.4 L886.7,516.4 L887.2,518.3 L887.6,520.3 L888.1,522.2 L888.6,524.1 L889.1,526.1 L889.5,528.0 L890.0,530.0 L890.5,531.9 L890.9,533.9 L891.4,535.8 L891.8,537.8 L892.3,539.7 L892.7,541.7 L893.2,543.6 L893.6,545.6 L894.1,547.5 L894.5,549.5 L895.0,551.4 L895.4,553.4 L895.8,555.3 L896.3,557.3 L896.7,559.2 L897.1,561.2 L897.6,563.2 L898.0,565.1 L898.4,567.1 L898.8,569.0 L899.3,571.0 L899.7,572.9 L900.1,574.9 L900.5,576.9 L900.9,578.8 L901.3,580.8 L901.8,582.7 L902.2,584.7 L902.6,586.7 L903.0,588.6 L903.4,590.6 L903.8,592.5 L904.2,594.5 L904.6,596.5 L905.0,598.4 L905.4,600.4 L905.8,602.3 L906.2,604.3 L906.6,606.3 L907.0,608.2 L907.4,610.2 L907.8,612.2 L908.2,614.1 L908.6,616.1 L909.0,618.0 L909.3,620.0 L909.7,622.0 L910.1,623.9 L910.5,625.9 L910.9,627.9 L911.3,629.8 L911.7,631.8 L912.0,633.8 L912.4,635.7 L912.8,637.7 L913.2,639.7 L913.6,641.6 L913.9,643.6 L914.3,645.6 L914.7,647.5 L915.1,649.5 L915.4,651.5 L915.8,653.4 L916.2,655.4 L916.5,657.4 L916.9,659.3 L917.3,661.3 L917.6,663.3 L918.0,665.2 L918.4,667.2 L918.7,669.2 L919.1,671.1 L919.5,673.1 L919.8,675.1 L920.2,677.1 L920.5,679.0 L920.9,681.0 L921.3,683.0 L921.6,684.9 L922.0,686.9 L922.3,688.9 L922.7,690.8 L923.0,692.8 L923.4,694.8 L923.7,696.8 L924.1,698.7 L924.4,700.7 L924.8,702.7 L925.1,704.6 L925.5,706.6 L925.8,708.6 L926.2,710.6 L926.5,712.5 L926.9,714.5 L927.2,716.5 L927.6,718.5 L927.9,720.4 L928.2,722.4 L928.6,724.4 L928.9,726.3 L929.3,728.3 L929.6,730.3 L929.9,732.3 L930.3,734.2 L930.6,736.2 L930.9,738.2 L931.3,740.2 L931.6,742.1 L931.9,744.1 L932.3,746.1 L932.6,748.1 L932.9,750.0 L933.3,752.0 L933.6,754.0 L933.9,756.0 L934.3,757.9 L934.6,759.9 L934.9,761.9 L935.3,763.9 L935.6,765.8 L935.9,767.8 L936.2,769.8 L936.6,771.8 L936.9,773.8 L937.2,775.7 L937.5,777.7 L937.8,779.7 L938.2,781.7 L938.5,783.6 L938.8,785.6 L939.1,787.6 L939.5,789.6 L939.8,791.6 L940.1,793.5 L940.4,795.5 L940.7,797.5 L941.0,799.5 L941.4,801.4 L941.7,803.4 L942.0,805.4 L942.3,807.4 L942.6,809.4 L942.9,811.3 L943.3,813.3 L943.6,815.3 L943.9,817.3 L944.2,819.2 L944.5,821.2 L944.8,823.2 L945.1,825.2 L945.4,827.2 L945.8,829.1 L946.1,831.1 L946.4,833.1 L946.7,835.1 L947.0,837.1 L947.3,839.0 L947.6,841.0 L947.9,843.0 L948.2,845.0 L948.5,847.0 L948.8,848.9 L949.1,850.9 L949.5,852.9 L949.8,854.9 L950.1,856.9 L950.4,858.8 L950.7,860.8 L951.0,862.8 L951.3,864.8 L951.6,866.8 L951.9,868.7 L952.2,870.7 L952.5,872.7 L952.8,874.7 L953.1,876.7 L953.4,878.6 L953.7,880.6 L954.0,882.6 L954.3,884.6 L954.6,886.6 L954.9,888.6 L955.2,890.5 L955.5,892.5 L955.8,894.5 L956.1,896.5 L956.4,898.5 L956.7,900.4 L957.0,902.4 L957.3,904.4 L957.6,906.4 L957.9,908.4 L958.2,910.3 L958.5,912.3 L958.8,914.3 L959.1,916.3 L959.4,918.3 L959.7,920.3 L960.0,922.2 L960.3,924.2 L960.6,926.2 L960.9,928.2 L961.2,930.2 L961.5,932.1 L961.8,934.1 L962.1,936.1 L962.4,938.1 L962.7,940.1 L963.0,942.0 L963.3,944.0 L963.6,946.0 L963.9,948.0 L964.2,950.0 L964.5,952.0 L964.8,953.9 L965.1,955.9 L965.4,957.9 L965.7,959.9 L966.0,961.9 L966.3,963.8 L966.6,965.8 L966.9,967.8 L967.2,969.8 L967.5,971.8 L967.8,973.7 L968.1,975.7 L968.4,977.7 L968.7,979.7 L969.0,981.7 L969.3,983.7 L969.6,985.6 L969.9,987.6 L970.2,989.6 L970.5,991.6 L970.8,993.6 L971.1,995.5 L971.4,997.5 L971.7,999.5 L972.0,1001.5 L972.3,1003.5 L972.6,1005.4 L972.9,1007.4 L973.2,1009.4 L973.5,1011.4 L973.8,1013.4 L974.2,1015.3 L974.5,1017.3 L974.8,1019.3 L975.1,1021.3 L975.4,1023.3 L975.7,1025.2 L976.0,1027.2 L976.3,1029.2 L976.6,1031.2 L976.9,1033.1 L977.3,1035.1 L977.6,1037.1 L977.9,1039.1 L978.2,1041.1 L978.5,1043.0 L978.8,1045.0 L979.2,1047.0 L979.5,1049.0 L979.8,1050.9 L980.1,1052.9 L980.4,1054.9 L980.8,1056.9 L981.1,1058.9 L981.4,1060.8 L981.7,1062.8 L982.1,1064.8 L982.4,1066.8 L982.7,1068.7 L983.0,1070.7 L983.4,1072.7 L983.7,1074.7 L984.0,1076.6 L984.4,1078.6 L984.7,1080.6 L985.0,1082.6 L985.4,1084.5 L985.7,1086.5 L986.0,1088.5 L986.4,1090.5 L986.7,1092.4 L987.1,1094.4 L987.4,1096.4 L987.7,1098.3 L988.1,1100.3 L988.4,1102.3 L988.8,1104.3 L989.1,1106.2 L989.5,1108.2 L989.8,1110.2 L990.2,1112.1 L990.5,1114.1 L990.9,1116.1 L991.3,1118.1 L991.6,1120.0 L992.0,1122.0 L992.3,1124.0 L992.7,1125.9 L993.1,1127.9 L993.4,1129.9 L993.8,1131.8 L994.2,1133.8 L994.5,1135.8 L994.9,1137.7 L995.3,1139.7 L995.6,1141.7 L996.0,1143.6 L996.4,1145.6 L996.8,1147.6 L997.1,1149.5 L997.5,1151.5 L997.9,1153.5 L998.3,1155.4 L998.7,1157.4 L999.1,1159.4 L999.5,1161.3 L999.8,1163.3 L1000.2,1165.3 L1000.6,1167.2 L1001.0,1169.2 L1001.4,1171.1 L1001.8,1173.1 L1002.2,1175.1 L1002.6,1177.0 L1003.0,1179.0 L1003.4,1180.9 L1003.9,1182.9 L1004.3,1184.9 L1004.7,1186.8 L1005.1,1188.8 L1005.5,1190.7 L1005.9,1192.7 L1006.3,1194.7 L1006.8,1196.6 L1007.2,1198.6 L1007.6,1200.5 L1008.0,1202.5 L1008.5,1204.4 L1008.9,1206.4 L1009.3,1208.4 L1009.8,1210.3 L1010.2,1212.3 L1010.7,1214.2 L1011.1,1216.2 L1011.5,1218.1 L1012.0,1220.1 L1012.4,1222.0 L1012.9,1224.0 L1013.3,1225.9 L1013.8,1227.9 L1014.3,1229.8 L1014.7,1231.8 L1015.2,1233.7 L1015.6,1235.7 L1016.1,1237.6 L1016.6,1239.6 L1017.1,1241.5 L1017.5,1243.5 L1018.0,1245.4 L1018.5,1247.4 L1019.0,1249.3 L1019.4,1251.3 L1019.9,1253.2 L1020.4,1255.2 L1020.9,1257.1 L1021.4,1259.1 L1021.9,1261.0 L1022.4,1262.9 L1022.9,1264.9 L1023.4,1266.8 L1023.9,1268.8 L1024.4,1270.7 L1024.9,1272.7 L1025.4,1274.6 L1025.9,1276.5 L1026.5,1278.5 L1026.5,1280.5 L1064.0,1280.5 L1066.0,1280.2 L1068.0,1279.7 L1069.9,1279.2 L1071.9,1278.6 L1073.8,1277.9 L1075.7,1277.3 L1077.6,1276.6 L1079.5,1275.9 L1081.4,1275.1 L1083.2,1274.4 L1085.0,1273.6 L1086.9,1272.7 L1088.6,1271.9 L1090.4,1271.0 L1092.2,1270.1 L1093.9,1269.2 L1095.7,1268.2 L1097.4,1267.2 L1099.1,1266.2 L1100.8,1265.2 L1102.5,1264.1 L1104.2,1263.1 L1105.8,1262.0 L1107.5,1260.9 L1109.1,1259.8 L1110.8,1258.6 L1112.4,1257.5 L1114.0,1256.3 L1115.6,1255.1 L1117.2,1253.9 L1118.8,1252.7 L1120.4,1251.5 L1121.9,1250.2 L1123.5,1249.0 L1125.1,1247.7 L1126.6,1246.4 L1128.2,1245.2 L1129.7,1243.9 L1131.3,1242.6 L1132.8,1241.3 L1134.4,1240.0 L1135.9,1238.7 L1137.4,1237.3 L1139.0,1236.0 L1140.5,1234.7 L1142.0,1233.4 L1143.6,1232.0 L1145.1,1230.7 L1146.6,1229.4 L1148.2,1228.1 L1149.7,1226.7 L1151.3,1225.4 L1152.8,1224.1 L1154.3,1222.8 L1155.9,1221.5 L1157.5,1220.2 L1159.0,1218.9 L1160.6,1217.7 L1162.1,1216.4 L1163.7,1215.1 L1165.3,1213.9 L1166.9,1212.7 L1168.5,1211.5 L1170.1,1210.3 L1171.7,1209.1 L1173.3,1207.9 L1175.0,1206.8 L1176.6,1205.6 L1178.3,1204.5 L1180.0,1203.4 L1181.6,1202.3 L1183.3,1201.3 L1185.0,1200.3 L1186.8,1199.3 L1188.5,1198.3 L1190.2,1197.3 L1192.0,1196.4 L1193.8,1195.5 L1195.6,1194.6 L1197.4,1193.8 L1199.2,1193.0 L1201.0,1192.2 L1202.9,1191.4 L1204.8,1190.7 L1206.7,1190.0 L1208.6,1189.4 L1210.5,1188.8 L1212.5,1188.2 L1214.5,1187.7 L1216.4,1187.2 L1218.4,1186.7 L1220.4,1186.3 L1222.4,1185.9 L1224.5,1185.6 L1226.5,1185.3 L1228.5,1185.1 L1230.5,1184.9 L1232.5,1184.8 L1234.5,1184.7 L1236.6,1184.6 L1238.6,1184.7 L1240.5,1184.7 L1242.5,1184.9 L1244.5,1185.1 L1246.4,1185.3 L1248.4,1185.6 L1250.3,1186.0 L1252.2,1186.5 L1254.0,1186.9 L1255.9,1187.5 L1257.7,1188.1 L1259.6,1188.8 L1261.4,1189.5 L1263.1,1190.3 L1264.9,1191.1 L1266.6,1192.0 L1268.4,1192.9 L1270.1,1193.8 L1271.8,1194.8 L1273.5,1195.8 L1275.2,1196.9 L1276.9,1198.0 L1278.5,1199.1 L1280.2,1200.2 L1281.8,1201.4 L1283.5,1202.6 L1285.1,1203.8 L1286.7,1205.0 L1288.3,1206.3 L1290.0,1207.6 L1291.6,1208.8 L1293.2,1210.1 L1294.8,1211.4 L1296.4,1212.7 L1298.0,1214.0 L1299.6,1215.4 L1301.1,1216.7 L1302.7,1218.0 L1304.3,1219.3 L1305.9,1220.6 L1307.5,1221.9 L1309.1,1223.2 L1310.7,1224.5 L1312.3,1225.9 L1313.9,1227.2 L1315.5,1228.4 L1317.1,1229.7 L1318.7,1231.0 L1320.3,1232.3 L1321.9,1233.5 L1323.5,1234.8 L1325.2,1236.0 L1326.8,1237.2 L1328.4,1238.4 L1330.0,1239.6 L1331.7,1240.8 L1333.3,1241.9 L1335.0,1243.1 L1336.6,1244.2 L1338.3,1245.3 L1340.0,1246.4 L1341.6,1247.4 L1343.3,1248.5 L1345.0,1249.5 L1346.7,1250.4 L1348.4,1251.4 L1350.2,1252.3 L1351.9,1253.2 L1353.6,1254.1 L1355.4,1254.9 L1357.1,1255.8 L1358.9,1256.5 L1360.7,1257.3 L1362.5,1258.0 L1364.3,1258.7 L1366.1,1259.3 L1368.0,1259.9 L1369.8,1260.5 L1371.7,1261.0 L1373.5,1261.5 L1375.4,1261.9 L1377.3,1262.3 L1379.3,1262.7 L1381.2,1263.0 L1383.1,1263.3 L1385.1,1263.5 L1387.1,1263.7 L1389.1,1263.8 L1391.1,1263.9 L1393.1,1264.0 L1395.1,1264.0 L1397.1,1264.0 L1399.2,1264.0 L1401.2,1264.0 L1403.3,1263.9 L1405.3,1263.7 L1407.4,1263.6 L1409.5,1263.4 L1411.5,1263.2 L1413.6,1263.0 L1415.7,1262.7 L1417.7,1262.5 L1419.8,1262.2 L1421.9,1261.9 L1423.9,1261.6 L1426.0,1261.2 L1428.1,1260.9 L1430.1,1260.5 L1432.2,1260.2 L1434.2,1259.8 L1436.2,1259.4 L1438.2,1259.0 L1440.2,1258.6 L1442.2,1258.2 L1444.2,1257.8 L1446.2,1257.4 L1448.2,1257.0 L1450.1,1256.6 L1452.1,1256.2 L1454.0,1255.8 L1455.9,1255.4 L1457.8,1255.0 L1459.8,1254.6 L1461.7,1254.2 L1463.6,1253.8 L1465.5,1253.3 L1467.4,1252.9 L1469.3,1252.5 L1471.2,1252.1 L1473.1,1251.6 L1475.0,1251.2 L1476.9,1250.8 L1478.9,1250.3 L1480.8,1249.9 L1482.7,1249.4 L1484.6,1249.0 L1486.6,1248.5 L1488.5,1248.0 L1490.5,1247.6 L1492.4,1247.2 L1494.4,1246.7 L1496.3,1246.3 L1498.3,1245.9 L1500.2,1245.4 L1502.2,1245.0 L1504.2,1244.6 L1506.2,1244.3 L1508.1,1243.9 L1510.1,1243.6 L1512.1,1243.2 L1514.1,1242.9 L1516.1,1242.6 L1518.0,1242.4 L1520.0,1242.1 L1522.0,1241.9 L1524.0,1241.8 L1526.0,1241.6 L1528.0,1241.5 L1530.0,1241.4 L1532.0,1241.3 L1533.9,1241.3 L1535.9,1241.3 L1537.9,1241.3 L1539.9,1241.4 L1541.9,1241.5 L1543.9,1241.6 L1545.9,1241.8 L1547.9,1241.9 L1549.9,1242.1 L1551.9,1242.3 L1553.8,1242.5 L1555.8,1242.7 L1557.8,1242.9 L1559.8,1243.1 L1561.8,1243.3 L1563.9,1243.5 L1565.9,1243.7 L1567.9,1243.9 L1569.9,1244.2 L1571.9,1244.4 L1573.9,1244.7 L1575.9,1244.9 L1577.9,1245.2 L1579.9,1245.5 L1581.9,1245.7 L1583.9,1246.0 L1585.8,1246.4 L1587.8,1246.7 L1589.8,1247.0 L1591.8,1247.4 L1593.7,1247.8 L1595.7,1248.2 L1597.7,1248.6 L1599.6,1249.1 L1601.6,1249.5 L1603.5,1250.0 L1605.4,1250.5 L1607.3,1251.1 L1609.2,1251.6 L1611.1,1252.2 L1613.0,1252.8 L1614.9,1253.5 L1616.8,1254.1 L1618.7,1254.8 L1620.5,1255.5 L1622.4,1256.2 L1624.2,1257.0 L1626.1,1257.8 L1627.9,1258.6 L1629.7,1259.4 L1631.5,1260.3 L1633.3,1261.2 L1635.1,1262.1 L1636.8,1263.0 L1638.6,1263.9 L1640.4,1264.9 L1642.1,1265.9 L1643.9,1266.8 L1645.7,1267.8 L1647.4,1268.8 L1649.2,1269.7 L1650.9,1270.7 L1652.7,1271.6 L1654.5,1272.6 L1656.3,1273.5 L1658.1,1274.4 L1659.9,1275.2 L1661.7,1276.1 L1663.5,1276.9 L1665.4,1277.6 L1667.2,1278.3 L1669.1,1279.0 L1671.0,1279.7 L1672.9,1280.2 L1675.0,1280.5 L1908.0,1280.5" fill="none" stroke="#f00" stroke-width="8.5" stroke-linejoin="round" stroke-linecap="round"/>
<path d="M275.0,1280.5 L380.0,1280.5 L382.2,1280.4 L384.1,1280.5 L386.0,1280.5 L387.9,1280.5 L389.8,1280.5 L391.8,1280.5 L393.7,1280.5 L395.7,1280.5 L397.6,1280.5 L399.6,1280.5 L401.6,1280.5 L403.6,1280.5 L405.6,1280.4 L407.6,1280.3 L409.6,1280.2 L411.6,1280.1 L413.6,1280.0 L415.6,1279.9 L417.6,1279.7 L419.7,1279.6 L421.7,1279.4 L423.7,1279.2 L425.8,1279.0 L427.8,1278.8 L429.8,1278.5 L431.9,1278.3 L433.9,1278.0 L435.9,1277.7 L437.9,1277.4 L440.0,1277.1 L442.0,1276.8 L444.0,1276.4 L446.0,1276.0 L448.0,1275.6 L450.0,1275.2 L452.0,1274.8 L454.0,1274.3 L456.0,1273.8 L458.0,1273.3 L459.9,1272.8 L461.9,1272.2 L463.8,1271.7 L465.7,1271.1 L467.7,1270.5 L469.6,1269.8 L471.5,1269.2 L473.4,1268.5 L475.2,1267.8 L477.1,1267.0 L478.9,1266.3 L480.8,1265.5 L482.6,1264.7 L484.4,1263.9 L486.2,1263.0 L487.9,1262.1 L489.7,1261.2 L491.4,1260.2 L493.1,1259.3 L494.8,1258.3 L496.4,1257.2 L498.1,1256.2 L499.7,1255.1 L501.3,1254.0 L502.9,1252.8 L504.5,1251.7 L506.0,1250.4 L507.5,1249.2 L509.0,1247.9 L510.4,1246.7 L511.9,1245.3 L513.3,1244.0 L514.7,1242.6 L516.1,1241.2 L517.4,1239.8 L518.8,1238.3 L520.1,1236.9 L521.4,1235.4 L522.7,1233.8 L523.9,1232.3 L525.2,1230.7 L526.4,1229.2 L527.6,1227.6 L528.7,1226.0 L529.9,1224.3 L531.1,1222.7 L532.2,1221.0 L533.3,1219.3 L534.4,1217.6 L535.5,1215.9 L536.5,1214.2 L537.6,1212.5 L538.6,1210.7 L539.6,1208.9 L540.6,1207.2 L541.6,1205.4 L542.6,1203.6 L543.6,1201.8 L544.5,1200.0 L545.4,1198.2 L546.4,1196.4 L547.3,1194.5 L548.2,1192.7 L549.1,1190.9 L549.9,1189.1 L550.8,1187.2 L551.6,1185.4 L552.5,1183.5 L553.3,1181.7 L554.1,1179.8 L555.0,1178.0 L555.8,1176.1 L556.5,1174.3 L557.3,1172.4 L558.1,1170.6 L558.9,1168.7 L559.6,1166.8 L560.4,1165.0 L561.1,1163.1 L561.8,1161.2 L562.6,1159.4 L563.3,1157.5 L564.0,1155.6 L564.7,1153.7 L565.4,1151.9 L566.1,1150.0 L566.7,1148.1 L567.4,1146.2 L568.1,1144.3 L568.7,1142.4 L569.4,1140.6 L570.0,1138.7 L570.7,1136.8 L571.3,1134.9 L571.9,1133.0 L572.6,1131.1 L573.2,1129.2 L573.8,1127.3 L574.4,1125.4 L575.0,1123.5 L575.6,1121.6 L576.2,1119.7 L576.8,1117.8 L577.4,1115.9 L578.0,1114.0 L578.6,1112.1 L579.2,1110.2 L579.8,1108.3 L580.3,1106.3 L580.9,1104.4 L581.5,1102.5 L582.1,1100.6 L582.6,1098.7 L583.2,1096.8 L583.8,1094.9 L584.3,1093.0 L584.9,1091.1 L585.4,1089.1 L586.0,1087.2 L586.6,1085.3 L587.1,1083.4 L587.7,1081.5 L588.2,1079.6 L588.8,1077.6 L589.3,1075.7 L589.9,1073.8 L590.4,1071.9 L591.0,1070.0 L591.5,1068.0 L592.0,1066.1 L592.6,1064.2 L593.1,1062.3 L593.7,1060.4 L594.2,1058.4 L594.7,1056.5 L595.3,1054.6 L595.8,1052.7 L596.3,1050.7 L596.8,1048.8 L597.4,1046.9 L597.9,1045.0 L598.4,1043.0 L598.9,1041.1 L599.4,1039.2 L600.0,1037.2 L600.5,1035.3 L601.0,1033.4 L601.5,1031.5 L602.0,1029.5 L602.5,1027.6 L603.0,1025.7 L603.5,1023.7 L604.0,1021.8 L604.5,1019.9 L605.0,1017.9 L605.5,1016.0 L606.0,1014.1 L606.5,1012.1 L607.0,1010.2 L607.5,1008.3 L608.0,1006.3 L608.5,1004.4 L609.0,1002.4 L609.5,1000.5 L610.0,998.6 L610.4,996.6 L610.9,994.7 L611.4,992.7 L611.9,990.8 L612.4,988.9 L612.9,986.9 L613.3,985.0 L613.8,983.0 L614.3,981.1 L614.8,979.2 L615.2,977.2 L615.7,975.3 L616.2,973.3 L616.6,971.4 L617.1,969.4 L617.6,967.5 L618.0,965.5 L618.5,963.6 L619.0,961.6 L619.4,959.7 L619.9,957.8 L620.3,955.8 L620.8,953.9 L621.3,951.9 L621.7,950.0 L622.2,948.0 L622.6,946.1 L623.1,944.1 L623.5,942.2 L624.0,940.2 L624.4,938.3 L624.9,936.3 L625.3,934.4 L625.8,932.4 L626.2,930.5 L626.7,928.5 L627.1,926.6 L627.5,924.6 L628.0,922.6 L628.4,920.7 L628.9,918.7 L629.3,916.8 L629.7,914.8 L630.2,912.9 L630.6,910.9 L631.0,909.0 L631.5,907.0 L631.9,905.1 L632.3,903.1 L632.8,901.1 L633.2,899.2 L633.6,897.2 L634.1,895.3 L634.5,893.3 L634.9,891.4 L635.3,889.4 L635.8,887.4 L636.2,885.5 L636.6,883.5 L637.0,881.6 L637.5,879.6 L637.9,877.7 L638.3,875.7 L638.7,873.7 L639.1,871.8 L639.6,869.8 L640.0,867.9 L640.4,865.9 L640.8,863.9 L641.2,862.0 L641.6,860.0 L642.1,858.0 L642.5,856.1 L642.9,854.1 L643.3,852.2 L643.7,850.2 L644.1,848.2 L644.5,846.3 L644.9,844.3 L645.4,842.4 L645.8,840.4 L646.2,838.4 L646.6,836.5 L647.0,834.5 L647.4,832.5 L647.8,830.6 L648.2,828.6 L648.6,826.6 L649.0,824.7 L649.4,822.7 L649.8,820.8 L650.2,818.8 L650.6,816.8 L651.0,814.9 L651.4,812.9 L651.8,810.9 L652.2,809.0 L652.6,807.0 L653.0,805.0 L653.4,803.1 L653.8,801.1 L654.2,799.1 L654.6,797.2 L655.0,795.2 L655.4,793.2 L655.8,791.3 L656.2,789.3 L656.6,787.3 L657.0,785.4 L657.4,783.4 L657.8,781.5 L658.2,779.5 L658.6,777.5 L659.0,775.6 L659.4,773.6 L659.8,771.6 L660.2,769.7 L660.6,767.7 L661.0,765.7 L661.4,763.8 L661.8,761.8 L662.2,759.8 L662.6,757.9 L662.9,755.9 L663.3,753.9 L663.7,752.0 L664.1,750.0 L664.5,748.0 L664.9,746.1 L665.3,744.1 L665.7,742.1 L666.1,740.2 L666.5,738.2 L666.9,736.2 L667.3,734.3 L667.7,732.3 L668.1,730.3 L668.4,728.4 L668.8,726.4 L669.2,724.4 L669.6,722.5 L670.0,720.5 L670.4,718.5 L670.8,716.6 L671.2,714.6 L671.6,712.6 L672.0,710.7 L672.4,708.7 L672.8,706.7 L673.2,704.8 L673.6,702.8 L673.9,700.8 L674.3,698.9 L674.7,696.9 L675.1,694.9 L675.5,693.0 L675.9,691.0 L676.3,689.0 L676.7,687.1 L677.1,685.1 L677.5,683.2 L677.9,681.2 L678.3,679.2 L678.7,677.3 L679.1,675.3 L679.5,673.3 L679.9,671.4 L680.3,669.4 L680.7,667.4 L681.1,665.5 L681.5,663.5 L681.9,661.6 L682.3,659.6 L682.6,657.6 L683.0,655.7 L683.4,653.7 L683.8,651.7 L684.2,649.8 L684.6,647.8 L685.0,645.9 L685.4,643.9 L685.8,641.9 L686.3,640.0 L686.7,638.0 L687.1,636.1 L687.5,634.1 L687.9,632.1 L688.3,630.2 L688.7,628.2 L689.1,626.3 L689.5,624.3 L689.9,622.3 L690.3,620.4 L690.7,618.4 L691.1,616.5 L691.5,614.5 L691.9,612.5 L692.3,610.6 L692.7,608.6 L693.1,606.7 L693.5,604.7 L694.0,602.7 L694.4,600.8 L694.8,598.8 L695.2,596.9 L695.6,594.9 L696.0,593.0 L696.4,591.0 L696.8,589.0 L697.2,587.1 L697.6,585.1 L698.1,583.2 L698.5,581.2 L698.9,579.3 L699.3,577.3 L699.7,575.3 L700.1,573.4 L700.5,571.4 L700.9,569.5 L701.3,567.5 L701.8,565.6 L702.2,563.6 L702.6,561.6 L703.0,559.7 L703.4,557.7 L703.8,555.8 L704.2,553.8 L704.6,551.9 L705.0,549.9 L705.5,548.0 L705.9,546.0 L706.3,544.0 L706.7,542.1 L707.1,540.1 L707.5,538.2 L707.9,536.2 L708.3,534.3 L708.8,532.3 L709.2,530.3 L709.6,528.4 L710.0,526.4 L710.4,524.5 L710.8,522.5 L711.2,520.6 L711.6,518.6 L712.0,516.6 L712.4,514.7 L712.9,512.7 L713.3,510.8 L713.7,508.8 L714.1,506.9 L714.5,504.9 L714.9,502.9 L715.3,501.0 L715.7,499.0 L716.1,497.1 L716.5,495.1 L716.9,493.2 L717.3,491.2 L717.8,489.2 L718.2,487.3 L718.6,485.3 L719.0,483.4 L719.4,481.4 L719.8,479.4 L720.2,477.5 L720.6,475.5 L721.0,473.6 L721.4,471.6 L721.8,469.6 L722.2,467.7 L722.6,465.7 L723.0,463.8 L723.4,461.8 L723.8,459.8 L724.2,457.9 L724.6,455.9 L725.0,454.0 L725.4,452.0 L725.8,450.0 L726.2,448.1 L726.6,446.1 L727.0,444.1 L727.4,442.2 L727.8,440.2 L728.2,438.2 L728.6,436.3 L729.0,434.3 L729.4,432.4 L729.8,430.4 L730.2,428.4 L730.6,426.5 L731.0,424.5 L731.4,422.5 L731.8,420.6 L732.2,418.6 L732.6,416.7 L733.0,414.7 L733.4,412.7 L733.8,410.8 L734.3,408.8 L734.7,406.9 L735.2,404.9 L735.6,403.0 L736.0,401.0 L736.5,399.0 L737.0,397.1 L737.4,395.2 L737.9,393.2 L738.4,391.3 L738.9,389.3 L739.4,387.4 L739.9,385.4 L740.5,383.5 L741.0,381.6 L741.5,379.6 L742.1,377.7 L742.7,375.8 L743.2,373.8 L743.8,371.9 L744.4,370.0 L745.0,368.1 L745.7,366.2 L746.3,364.3 L746.9,362.3 L747.6,360.4 L748.3,358.5 L749.0,356.6 L749.7,354.7 L750.4,352.9 L751.1,351.0 L751.8,349.1 L752.5,347.2 L753.3,345.4 L754.0,343.5 L754.8,341.7 L755.5,339.9 L756.2,338.1 L757.0,336.2 L757.7,334.4 L758.5,332.7 L759.3,330.9 L760.0,329.1 L760.8,327.3 L761.5,325.5 L762.3,323.8 L763.1,322.0 L763.9,320.2 L764.7,318.4 L765.5,316.6 L766.3,314.8 L767.1,313.0 L767.9,311.2 L768.7,309.4 L769.5,307.5 L770.3,305.7 L771.2,303.8 L772.0,302.0 L772.9,300.1 L773.7,298.2 L774.6,296.2 L775.5,294.3 L776.4,292.3 L777.3,290.4 L778.3,288.4 L779.2,286.5 L780.2,284.6 L781.3,282.8 L782.4,281.0 L783.5,279.3 L784.7,277.6 L785.9,276.1 L787.2,274.6 L788.6,273.2 L790.0,272.0 L791.5,270.9 L793.1,269.9 L794.8,269.0 L796.5,268.3 L798.3,267.7 L800.2,267.3 L802.0,267.1 L803.9,267.1 L805.8,267.2 L807.7,267.6 L809.5,268.1 L811.3,268.9 L813.1,269.8 L814.8,270.9 L816.5,272.1 L818.1,273.4 L819.6,274.8 L821.2,276.2 L822.6,277.7 L824.0,279.2 L825.3,280.7 L826.6,282.3 L827.9,283.9 L829.1,285.5 L830.2,287.2 L831.3,288.9 L832.4,290.6 L833.4,292.3 L834.4,294.0 L835.3,295.8 L836.2,297.6 L837.1,299.4 L837.9,301.2 L838.7,303.0 L839.5,304.9 L840.2,306.7 L841.0,308.6 L841.7,310.5 L842.4,312.4 L843.1,314.2 L843.7,316.1 L844.4,318.1 L845.0,320.0 L845.6,321.9 L846.2,323.8 L846.8,325.7 L847.4,327.6 L848.0,329.6 L848.6,331.5 L849.2,333.4 L849.8,335.3 L850.3,337.3 L850.9,339.2 L851.4,341.1 L852.0,343.0 L852.5,345.0 L853.0,346.9 L853.6,348.8 L854.1,350.8 L854.6,352.7 L855.1,354.6 L855.6,356.6 L856.1,358.5 L856.6,360.4 L857.1,362.4 L857.6,364.3 L858.1,366.3 L858.6,368.2 L859.0,370.1 L859.5,372.1 L860.0,374.0 L860.4,376.0 L860.9,377.9 L861.4,379.9 L861.8,381.8 L862.3,383.8 L862.7,385.7 L863.2,387.6 L863.6,389.6 L864.1,391.5 L864.5,393.5 L864.9,395.4 L865.4,397.4 L865.8,399.3 L866.3,401.3 L866.7,403.2 L867.1,405.2 L867.6,407.1 L868.0,409.1 L868.4,411.0 L868.9,413.0 L869.3,414.9 L869.8,416.9 L870.2,418.8 L870.6,420.8 L871.1,422.8 L871.5,424.7 L871.9,426.7 L872.4,428.6 L872.8,430.6 L873.2,432.5 L873.7,434.5 L874.1,436.4 L874.5,438.4 L875.0,440.3 L875.4,442.3 L875.8,444.2 L876.3,446.2 L876.7,448.1 L877.2,450.1 L877.6,452.0 L878.0,454.0 L878.5,456.0 L878.9,457.9 L879.3,459.9 L879.8,461.8 L880.2,463.8 L880.6,465.7 L881.0,467.7 L881.5,469.6 L881.9,471.6 L882.3,473.6 L882.8,475.5 L883.2,477.5 L883.6,479.4 L884.1,481.4 L884.5,483.3 L884.9,485.3 L885.3,487.3 L885.8,489.2 L886.2,491.2 L886.6,493.1 L887.0,495.1 L887.5,497.0 L887.9,499.0 L888.3,501.0 L888.7,502.9 L889.1,504.9 L889.6,506.8 L890.0,508.8 L890.4,510.8 L890.8,512.7 L891.2,514.7 L891.6,516.6 L892.1,518.6 L892.5,520.6 L892.9,522.5 L893.3,524.5 L893.7,526.4 L894.1,528.4 L894.5,530.4 L894.9,532.3 L895.3,534.3 L895.7,536.2 L896.1,538.2 L896.5,540.2 L896.9,542.1 L897.3,544.1 L897.7,546.1 L898.1,548.0 L898.5,550.0 L898.9,551.9 L899.3,553.9 L899.7,555.9 L900.1,557.8 L900.5,559.8 L900.9,561.8 L901.3,563.7 L901.7,565.7 L902.0,567.7 L902.4,569.6 L902.8,571.6 L903.2,573.6 L903.6,575.5 L903.9,577.5 L904.3,579.5 L904.7,581.4 L905.1,583.4 L905.4,585.4 L905.8,587.3 L906.2,589.3 L906.5,591.3 L906.9,593.3 L907.2,595.2 L907.6,597.2 L908.0,599.2 L908.3,601.1 L908.7,603.1 L909.0,605.1 L909.4,607.1 L909.7,609.0 L910.1,611.0 L910.4,613.0 L910.8,614.9 L911.1,616.9 L911.4,618.9 L911.8,620.9 L912.1,622.8 L912.4,624.8 L912.8,626.8 L913.1,628.8 L913.4,630.7 L913.7,632.7 L914.1,634.7 L914.4,636.7 L914.7,638.6 L915.0,640.6 L915.3,642.6 L915.6,644.6 L916.0,646.5 L916.3,648.5 L916.6,650.5 L916.9,652.5 L917.2,654.5 L917.5,656.4 L917.8,658.4 L918.1,660.4 L918.3,662.4 L918.6,664.4 L918.9,666.3 L919.2,668.3 L919.5,670.3 L919.8,672.3 L920.0,674.3 L920.3,676.3 L920.6,678.2 L920.8,680.2 L921.1,682.2 L921.4,684.2 L921.6,686.2 L921.9,688.2 L922.1,690.1 L922.4,692.1 L922.7,694.1 L922.9,696.1 L923.2,698.1 L923.4,700.1 L923.7,702.1 L923.9,704.0 L924.1,706.0 L924.4,708.0 L924.6,710.0 L924.9,712.0 L925.1,714.0 L925.3,716.0 L925.6,718.0 L925.8,719.9 L926.0,721.9 L926.3,723.9 L926.5,725.9 L926.7,727.9 L927.0,729.9 L927.2,731.9 L927.4,733.9 L927.6,735.9 L927.9,737.8 L928.1,739.8 L928.3,741.8 L928.5,743.8 L928.7,745.8 L929.0,747.8 L929.2,749.8 L929.4,751.8 L929.6,753.8 L929.8,755.7 L930.1,757.7 L930.3,759.7 L930.5,761.7 L930.7,763.7 L930.9,765.7 L931.2,767.7 L931.4,769.7 L931.6,771.7 L931.8,773.7 L932.0,775.7 L932.2,777.6 L932.5,779.6 L932.7,781.6 L932.9,783.6 L933.1,785.6 L933.3,787.6 L933.6,789.6 L933.8,791.6 L934.0,793.6 L934.2,795.6 L934.4,797.5 L934.7,799.5 L934.9,801.5 L935.1,803.5 L935.3,805.5 L935.6,807.5 L935.8,809.5 L936.0,811.5 L936.3,813.5 L936.5,815.4 L936.7,817.4 L937.0,819.4 L937.2,821.4 L937.4,823.4 L937.7,825.4 L937.9,827.4 L938.1,829.4 L938.4,831.3 L938.6,833.3 L938.9,835.3 L939.1,837.3 L939.4,839.3 L939.6,841.3 L939.9,843.3 L940.1,845.2 L940.4,847.2 L940.6,849.2 L940.9,851.2 L941.1,853.2 L941.4,855.2 L941.6,857.2 L941.9,859.1 L942.2,861.1 L942.4,863.1 L942.7,865.1 L943.0,867.1 L943.2,869.1 L943.5,871.0 L943.7,873.0 L944.0,875.0 L944.3,877.0 L944.6,879.0 L944.8,881.0 L945.1,883.0 L945.4,884.9 L945.6,886.9 L945.9,888.9 L946.2,890.9 L946.4,892.9 L946.7,894.8 L947.0,896.8 L947.3,898.8 L947.5,900.8 L947.8,902.8 L948.1,904.8 L948.4,906.7 L948.6,908.7 L948.9,910.7 L949.2,912.7 L949.5,914.7 L949.7,916.7 L950.0,918.6 L950.3,920.6 L950.6,922.6 L950.8,924.6 L951.1,926.6 L951.4,928.6 L951.7,930.5 L951.9,932.5 L952.2,934.5 L952.5,936.5 L952.8,938.5 L953.0,940.5 L953.3,942.4 L953.6,944.4 L953.9,946.4 L954.1,948.4 L954.4,950.4 L954.7,952.4 L955.0,954.3 L955.2,956.3 L955.5,958.3 L955.8,960.3 L956.0,962.3 L956.3,964.3 L956.6,966.2 L956.8,968.2 L957.1,970.2 L957.4,972.2 L957.6,974.2 L957.9,976.2 L958.2,978.1 L958.4,980.1 L958.7,982.1 L959.0,984.1 L959.2,986.1 L959.5,988.1 L959.8,990.1 L960.0,992.0 L960.3,994.0 L960.6,996.0 L960.8,998.0 L961.1,1000.0 L961.3,1002.0 L961.6,1003.9 L961.9,1005.9 L962.1,1007.9 L962.4,1009.9 L962.7,1011.9 L962.9,1013.9 L963.2,1015.9 L963.4,1017.8 L963.7,1019.8 L964.0,1021.8 L964.2,1023.8 L964.5,1025.8 L964.7,1027.8 L965.0,1029.8 L965.2,1031.7 L965.5,1033.7 L965.8,1035.7 L966.0,1037.7 L966.3,1039.7 L966.5,1041.7 L966.8,1043.7 L967.0,1045.6 L967.3,1047.6 L967.6,1049.6 L967.8,1051.6 L968.1,1053.6 L968.3,1055.6 L968.6,1057.6 L968.8,1059.6 L969.1,1061.5 L969.3,1063.5 L969.6,1065.5 L969.8,1067.5 L970.1,1069.5 L970.3,1071.5 L970.6,1073.5 L970.9,1075.4 L971.1,1077.4 L971.4,1079.4 L971.6,1081.4 L971.9,1083.4 L972.1,1085.4 L972.4,1087.4 L972.6,1089.4 L972.9,1091.3 L973.1,1093.3 L973.4,1095.3 L973.6,1097.3 L973.9,1099.3 L974.1,1101.3 L974.4,1103.3 L974.6,1105.2 L974.9,1107.2 L975.1,1109.2 L975.4,1111.2 L975.6,1113.2 L975.9,1115.2 L976.1,1117.2 L976.4,1119.2 L976.6,1121.1 L976.9,1123.1 L977.1,1125.1 L977.4,1127.1 L977.6,1129.1 L977.9,1131.1 L978.1,1133.1 L978.4,1135.0 L978.6,1137.0 L978.9,1139.0 L979.1,1141.0 L979.4,1143.0 L979.6,1145.0 L979.9,1147.0 L980.1,1149.0 L980.4,1150.9 L980.6,1152.9 L980.9,1154.9 L981.1,1156.9 L981.4,1158.9 L981.6,1160.9 L981.9,1162.9 L982.1,1164.8 L982.4,1166.8 L982.6,1168.8 L982.9,1170.8 L983.1,1172.8 L983.4,1174.8 L983.6,1176.8 L983.9,1178.8 L984.1,1180.7 L984.4,1182.7 L984.6,1184.7 L984.9,1186.7 L985.1,1188.7 L985.4,1190.7 L985.6,1192.7 L985.9,1194.6 L986.1,1196.6 L986.4,1198.6 L986.6,1200.6 L986.9,1202.6 L987.1,1204.6 L987.4,1206.6 L987.6,1208.6 L987.9,1210.5 L988.1,1212.5 L988.4,1214.5 L988.7,1216.5 L989.0,1218.5 L989.2,1220.4 L989.5,1222.4 L989.8,1224.4 L990.1,1226.4 L990.4,1228.3 L990.7,1230.3 L991.1,1232.3 L991.4,1234.3 L991.8,1236.2 L992.1,1238.2 L992.5,1240.1 L992.9,1242.1 L993.3,1244.0 L993.7,1246.0 L994.1,1247.9 L994.6,1249.9 L995.1,1251.8 L995.5,1253.8 L996.0,1255.7 L996.5,1257.6 L997.1,1259.5 L997.6,1261.5 L998.2,1263.4 L998.8,1265.3 L999.4,1267.2 L1000.0,1269.1 L1000.7,1271.0 L1001.4,1272.9 L1002.1,1274.8 L1002.8,1276.7 L1003.6,1278.5 L1004.0,1280.5 L1098.0,1280.5 L1100.0,1279.8 L1101.9,1279.3 L1103.8,1278.6 L1105.7,1278.0 L1107.5,1277.3 L1109.4,1276.6 L1111.2,1275.9 L1113.1,1275.1 L1114.9,1274.4 L1116.7,1273.6 L1118.5,1272.8 L1120.4,1271.9 L1122.2,1271.1 L1124.0,1270.2 L1125.7,1269.3 L1127.5,1268.4 L1129.3,1267.5 L1131.1,1266.5 L1132.9,1265.6 L1134.6,1264.6 L1136.4,1263.7 L1138.2,1262.7 L1139.9,1261.7 L1141.7,1260.7 L1143.5,1259.7 L1145.2,1258.7 L1147.0,1257.7 L1148.7,1256.7 L1150.5,1255.7 L1152.2,1254.6 L1154.0,1253.6 L1155.7,1252.6 L1157.5,1251.6 L1159.3,1250.6 L1161.0,1249.6 L1162.8,1248.6 L1164.5,1247.6 L1166.3,1246.6 L1168.1,1245.6 L1169.8,1244.6 L1171.6,1243.6 L1173.4,1242.7 L1175.2,1241.8 L1177.0,1240.8 L1178.8,1239.9 L1180.6,1239.0 L1182.4,1238.1 L1184.2,1237.3 L1186.0,1236.4 L1187.8,1235.6 L1189.7,1234.8 L1191.5,1234.0 L1193.4,1233.2 L1195.2,1232.5 L1197.1,1231.8 L1199.0,1231.1 L1200.8,1230.4 L1202.7,1229.8 L1204.6,1229.2 L1206.6,1228.6 L1208.5,1228.0 L1210.4,1227.5 L1212.4,1227.0 L1214.3,1226.6 L1216.3,1226.1 L1218.3,1225.8 L1220.2,1225.4 L1222.2,1225.1 L1224.2,1224.8 L1226.2,1224.5 L1228.2,1224.3 L1230.2,1224.1 L1232.2,1224.0 L1234.2,1223.9 L1236.2,1223.8 L1238.2,1223.8 L1240.2,1223.8 L1242.2,1223.8 L1244.2,1223.9 L1246.2,1224.0 L1248.2,1224.1 L1250.2,1224.3 L1252.2,1224.5 L1254.1,1224.8 L1256.1,1225.1 L1258.1,1225.4 L1260.0,1225.8 L1261.9,1226.2 L1263.9,1226.7 L1265.8,1227.2 L1267.7,1227.8 L1269.6,1228.3 L1271.4,1229.0 L1273.3,1229.6 L1275.2,1230.3 L1277.0,1231.0 L1278.9,1231.8 L1280.7,1232.6 L1282.5,1233.4 L1284.3,1234.2 L1286.1,1235.1 L1288.0,1236.0 L1289.8,1236.9 L1291.5,1237.8 L1293.3,1238.7 L1295.1,1239.7 L1296.9,1240.7 L1298.7,1241.7 L1300.4,1242.7 L1302.2,1243.7 L1304.0,1244.7 L1305.7,1245.8 L1307.5,1246.8 L1309.3,1247.8 L1311.0,1248.9 L1312.8,1249.9 L1314.5,1251.0 L1316.3,1252.0 L1318.1,1253.1 L1319.8,1254.1 L1321.6,1255.1 L1323.4,1256.2 L1325.1,1257.2 L1326.9,1258.2 L1328.7,1259.2 L1330.5,1260.2 L1332.2,1261.1 L1334.0,1262.1 L1335.8,1263.0 L1337.6,1263.9 L1339.4,1264.8 L1341.3,1265.7 L1343.1,1266.5 L1344.9,1267.3 L1346.8,1268.1 L1348.6,1268.9 L1350.5,1269.6 L1352.3,1270.3 L1354.2,1271.0 L1356.1,1271.6 L1358.0,1272.2 L1359.9,1272.8 L1361.8,1273.4 L1363.7,1273.9 L1365.6,1274.4 L1367.5,1274.9 L1369.4,1275.4 L1371.4,1275.8 L1373.3,1276.2 L1375.3,1276.6 L1377.2,1276.9 L1379.2,1277.3 L1381.1,1277.6 L1383.1,1277.9 L1385.1,1278.1 L1387.0,1278.4 L1389.0,1278.6 L1391.0,1278.7 L1393.0,1278.9 L1395.0,1279.1 L1397.0,1279.2 L1398.9,1279.3 L1400.9,1279.4 L1402.9,1279.4 L1404.9,1279.4 L1406.9,1279.5 L1408.9,1279.5 L1410.9,1279.4 L1412.9,1279.4 L1414.9,1279.3 L1416.9,1279.2 L1418.9,1279.1 L1420.9,1279.0 L1422.9,1278.9 L1424.9,1278.7 L1426.9,1278.6 L1428.9,1278.4 L1430.9,1278.2 L1432.9,1277.9 L1434.9,1277.7 L1436.9,1277.5 L1438.9,1277.2 L1440.9,1276.9 L1442.9,1276.6 L1444.9,1276.3 L1446.9,1276.0 L1448.9,1275.7 L1450.9,1275.4 L1452.9,1275.0 L1454.9,1274.7 L1456.9,1274.3 L1458.9,1273.9 L1460.8,1273.6 L1462.8,1273.2 L1464.8,1272.8 L1466.8,1272.4 L1468.8,1272.0 L1470.8,1271.6 L1472.8,1271.2 L1474.7,1270.8 L1476.7,1270.4 L1478.7,1269.9 L1480.7,1269.5 L1482.7,1269.1 L1484.6,1268.7 L1486.6,1268.3 L1488.6,1267.9 L1490.6,1267.4 L1492.5,1267.0 L1494.5,1266.6 L1496.5,1266.2 L1498.5,1265.8 L1500.4,1265.5 L1502.4,1265.1 L1504.4,1264.7 L1506.4,1264.4 L1508.3,1264.1 L1510.3,1263.8 L1512.3,1263.5 L1514.3,1263.2 L1516.3,1262.9 L1518.2,1262.7 L1520.2,1262.4 L1522.2,1262.2 L1524.2,1262.1 L1526.2,1261.9 L1528.2,1261.8 L1530.1,1261.7 L1532.1,1261.6 L1534.1,1261.5 L1536.1,1261.5 L1538.1,1261.4 L1540.1,1261.4 L1542.1,1261.4 L1544.1,1261.5 L1546.1,1261.5 L1548.1,1261.6 L1550.1,1261.7 L1552.0,1261.8 L1554.0,1262.0 L1556.0,1262.1 L1558.0,1262.3 L1560.0,1262.5 L1562.0,1262.7 L1564.0,1263.0 L1566.0,1263.2 L1568.0,1263.5 L1569.9,1263.8 L1571.9,1264.1 L1573.9,1264.4 L1575.9,1264.7 L1577.8,1265.1 L1579.8,1265.5 L1581.8,1265.9 L1583.8,1266.3 L1585.7,1266.7 L1587.7,1267.1 L1589.6,1267.6 L1591.6,1268.1 L1593.6,1268.6 L1595.5,1269.1 L1597.5,1269.6 L1599.4,1270.1 L1601.3,1270.7 L1603.3,1271.2 L1605.2,1271.8 L1607.1,1272.4 L1609.1,1273.0 L1611.0,1273.6 L1612.9,1274.2 L1614.8,1274.9 L1616.7,1275.5 L1618.6,1276.2 L1620.5,1276.9 L1622.4,1277.6 L1624.3,1278.3 L1626.2,1279.0 L1628.1,1279.7 L1630.0,1280.4 L1632.0,1280.5 L1908.0,1280.5" fill="none" stroke="#0f0" stroke-width="8.5" stroke-linejoin="round" stroke-linecap="round"/>
<path d="M275.0,1280.5 L380.0,1280.5 L382.2,1280.5 L384.1,1280.5 L386.0,1280.5 L387.9,1280.5 L389.8,1280.5 L391.8,1280.5 L393.7,1280.5 L395.7,1280.5 L397.7,1280.5 L399.7,1280.5 L401.6,1280.4 L403.6,1280.3 L405.6,1280.3 L407.6,1280.2 L409.6,1280.1 L411.7,1280.0 L413.7,1279.9 L415.7,1279.7 L417.7,1279.6 L419.7,1279.4 L421.8,1279.2 L423.8,1279.0 L425.8,1278.8 L427.9,1278.6 L429.9,1278.4 L431.9,1278.1 L433.9,1277.9 L436.0,1277.6 L438.0,1277.3 L440.0,1276.9 L442.0,1276.6 L444.0,1276.2 L446.0,1275.9 L448.0,1275.5 L450.0,1275.0 L452.0,1274.6 L454.0,1274.1 L455.9,1273.6 L457.9,1273.1 L459.8,1272.6 L461.8,1272.1 L463.7,1271.5 L465.6,1270.9 L467.5,1270.3 L469.4,1269.6 L471.3,1269.0 L473.2,1268.3 L475.1,1267.5 L476.9,1266.8 L478.7,1266.0 L480.5,1265.2 L482.3,1264.4 L484.1,1263.5 L485.9,1262.6 L487.6,1261.7 L489.4,1260.8 L491.1,1259.8 L492.8,1258.8 L494.4,1257.8 L496.1,1256.7 L497.7,1255.6 L499.3,1254.5 L500.9,1253.3 L502.5,1252.1 L504.0,1250.9 L505.6,1249.6 L507.1,1248.4 L508.5,1247.0 L510.0,1245.7 L511.4,1244.3 L512.8,1242.9 L514.2,1241.5 L515.6,1240.0 L516.9,1238.6 L518.2,1237.1 L519.5,1235.5 L520.8,1234.0 L522.1,1232.4 L523.3,1230.8 L524.6,1229.2 L525.8,1227.6 L527.0,1226.0 L528.1,1224.3 L529.3,1222.7 L530.4,1221.0 L531.5,1219.3 L532.6,1217.6 L533.7,1215.9 L534.8,1214.1 L535.8,1212.4 L536.9,1210.7 L537.9,1208.9 L538.9,1207.1 L539.9,1205.4 L540.8,1203.6 L541.8,1201.8 L542.7,1200.1 L543.7,1198.3 L544.6,1196.5 L545.5,1194.7 L546.3,1192.9 L547.2,1191.1 L548.1,1189.3 L548.9,1187.5 L549.8,1185.6 L550.6,1183.8 L551.4,1182.0 L552.2,1180.1 L553.0,1178.3 L553.8,1176.5 L554.5,1174.6 L555.3,1172.8 L556.0,1170.9 L556.8,1169.1 L557.5,1167.2 L558.2,1165.3 L558.9,1163.5 L559.7,1161.6 L560.4,1159.7 L561.1,1157.9 L561.7,1156.0 L562.4,1154.1 L563.1,1152.2 L563.8,1150.3 L564.4,1148.4 L565.1,1146.5 L565.7,1144.7 L566.4,1142.8 L567.0,1140.9 L567.7,1139.0 L568.3,1137.1 L568.9,1135.2 L569.6,1133.3 L570.2,1131.4 L570.8,1129.5 L571.4,1127.6 L572.1,1125.7 L572.7,1123.8 L573.3,1121.9 L573.9,1120.0 L574.5,1118.1 L575.1,1116.2 L575.7,1114.3 L576.3,1112.4 L576.9,1110.4 L577.5,1108.5 L578.1,1106.6 L578.7,1104.7 L579.3,1102.8 L579.9,1100.9 L580.5,1099.0 L581.0,1097.1 L581.6,1095.2 L582.2,1093.2 L582.8,1091.3 L583.3,1089.4 L583.9,1087.5 L584.5,1085.6 L585.0,1083.7 L585.6,1081.7 L586.2,1079.8 L586.7,1077.9 L587.3,1076.0 L587.8,1074.1 L588.4,1072.1 L588.9,1070.2 L589.5,1068.3 L590.0,1066.4 L590.5,1064.4 L591.1,1062.5 L591.6,1060.6 L592.1,1058.7 L592.7,1056.7 L593.2,1054.8 L593.7,1052.9 L594.3,1050.9 L594.8,1049.0 L595.3,1047.1 L595.8,1045.2 L596.3,1043.2 L596.9,1041.3 L597.4,1039.4 L597.9,1037.4 L598.4,1035.5 L598.9,1033.5 L599.4,1031.6 L599.9,1029.7 L600.4,1027.7 L600.9,1025.8 L601.4,1023.9 L601.9,1021.9 L602.4,1020.0 L602.9,1018.0 L603.4,1016.1 L603.9,1014.2 L604.3,1012.2 L604.8,1010.3 L605.3,1008.3 L605.8,1006.4 L606.3,1004.5 L606.7,1002.5 L607.2,1000.6 L607.7,998.6 L608.2,996.7 L608.6,994.7 L609.1,992.8 L609.6,990.8 L610.0,988.9 L610.5,986.9 L611.0,985.0 L611.4,983.0 L611.9,981.1 L612.3,979.1 L612.8,977.2 L613.2,975.2 L613.7,973.3 L614.1,971.3 L614.6,969.4 L615.0,967.4 L615.5,965.5 L615.9,963.5 L616.4,961.6 L616.8,959.6 L617.3,957.7 L617.7,955.7 L618.1,953.8 L618.6,951.8 L619.0,949.9 L619.4,947.9 L619.9,945.9 L620.3,944.0 L620.7,942.0 L621.2,940.1 L621.6,938.1 L622.0,936.2 L622.4,934.2 L622.9,932.2 L623.3,930.3 L623.7,928.3 L624.1,926.4 L624.6,924.4 L625.0,922.4 L625.4,920.5 L625.8,918.5 L626.2,916.6 L626.6,914.6 L627.0,912.6 L627.5,910.7 L627.9,908.7 L628.3,906.8 L628.7,904.8 L629.1,902.8 L629.5,900.9 L629.9,898.9 L630.3,896.9 L630.7,895.0 L631.1,893.0 L631.5,891.0 L631.9,889.1 L632.3,887.1 L632.7,885.1 L633.1,883.2 L633.5,881.2 L633.9,879.3 L634.3,877.3 L634.7,875.3 L635.1,873.4 L635.5,871.4 L635.9,869.4 L636.3,867.5 L636.7,865.5 L637.1,863.5 L637.5,861.6 L637.9,859.6 L638.2,857.6 L638.6,855.7 L639.0,853.7 L639.4,851.7 L639.8,849.8 L640.2,847.8 L640.6,845.8 L641.0,843.8 L641.3,841.9 L641.7,839.9 L642.1,837.9 L642.5,836.0 L642.9,834.0 L643.3,832.0 L643.6,830.1 L644.0,828.1 L644.4,826.1 L644.8,824.2 L645.2,822.2 L645.6,820.2 L645.9,818.3 L646.3,816.3 L646.7,814.3 L647.1,812.4 L647.5,810.4 L647.8,808.4 L648.2,806.4 L648.6,804.5 L649.0,802.5 L649.4,800.5 L649.7,798.6 L650.1,796.6 L650.5,794.6 L650.9,792.7 L651.2,790.7 L651.6,788.7 L652.0,786.8 L652.4,784.8 L652.8,782.8 L653.1,780.9 L653.5,778.9 L653.9,776.9 L654.3,774.9 L654.6,773.0 L655.0,771.0 L655.4,769.0 L655.8,767.1 L656.2,765.1 L656.5,763.1 L656.9,761.2 L657.3,759.2 L657.7,757.2 L658.1,755.3 L658.4,753.3 L658.8,751.3 L659.2,749.4 L659.6,747.4 L660.0,745.4 L660.3,743.5 L660.7,741.5 L661.1,739.5 L661.5,737.6 L661.9,735.6 L662.2,733.6 L662.6,731.7 L663.0,729.7 L663.4,727.7 L663.8,725.8 L664.2,723.8 L664.5,721.9 L664.9,719.9 L665.3,717.9 L665.7,716.0 L666.1,714.0 L666.5,712.0 L666.9,710.1 L667.2,708.1 L667.6,706.1 L668.0,704.2 L668.4,702.2 L668.8,700.3 L669.2,698.3 L669.6,696.3 L670.0,694.4 L670.4,692.4 L670.8,690.5 L671.1,688.5 L671.5,686.5 L671.9,684.6 L672.3,682.6 L672.7,680.6 L673.1,678.7 L673.5,676.7 L673.9,674.8 L674.3,672.8 L674.7,670.8 L675.1,668.9 L675.5,666.9 L675.9,665.0 L676.3,663.0 L676.7,661.0 L677.1,659.1 L677.5,657.1 L677.8,655.2 L678.2,653.2 L678.6,651.3 L679.0,649.3 L679.4,647.3 L679.8,645.4 L680.2,643.4 L680.6,641.5 L681.0,639.5 L681.4,637.5 L681.8,635.6 L682.2,633.6 L682.6,631.7 L683.0,629.7 L683.4,627.7 L683.8,625.8 L684.2,623.8 L684.6,621.9 L685.0,619.9 L685.4,618.0 L685.8,616.0 L686.2,614.0 L686.6,612.1 L687.0,610.1 L687.4,608.2 L687.8,606.2 L688.2,604.2 L688.6,602.3 L689.0,600.3 L689.4,598.4 L689.8,596.4 L690.2,594.4 L690.6,592.5 L691.0,590.5 L691.4,588.6 L691.8,586.6 L692.2,584.6 L692.6,582.7 L693.0,580.7 L693.4,578.8 L693.8,576.8 L694.2,574.8 L694.6,572.9 L695.0,570.9 L695.4,569.0 L695.8,567.0 L696.2,565.0 L696.6,563.1 L697.0,561.1 L697.4,559.2 L697.8,557.2 L698.2,555.2 L698.6,553.3 L699.0,551.3 L699.3,549.3 L699.7,547.4 L700.1,545.4 L700.5,543.4 L700.9,541.5 L701.3,539.5 L701.7,537.6 L702.1,535.6 L702.5,533.6 L702.9,531.7 L703.3,529.7 L703.7,527.7 L704.1,525.8 L704.5,523.8 L704.9,521.8 L705.3,519.9 L705.7,517.9 L706.0,515.9 L706.4,514.0 L706.8,512.0 L707.2,510.0 L707.6,508.1 L708.0,506.1 L708.4,504.1 L708.8,502.2 L709.2,500.2 L709.5,498.2 L709.9,496.2 L710.3,494.3 L710.7,492.3 L711.1,490.3 L711.5,488.4 L711.9,486.4 L712.2,484.4 L712.6,482.4 L713.0,480.5 L713.4,478.5 L713.8,476.5 L714.2,474.6 L714.5,472.6 L714.9,470.6 L715.3,468.6 L715.7,466.7 L716.1,464.7 L716.5,462.7 L716.8,460.7 L717.2,458.8 L717.6,456.8 L718.0,454.8 L718.4,452.8 L718.8,450.9 L719.2,448.9 L719.5,446.9 L719.9,444.9 L720.3,443.0 L720.7,441.0 L721.1,439.0 L721.5,437.1 L721.9,435.1 L722.3,433.1 L722.7,431.1 L723.1,429.2 L723.5,427.2 L723.9,425.2 L724.3,423.3 L724.8,421.3 L725.2,419.4 L725.6,417.4 L726.0,415.4 L726.4,413.5 L726.9,411.5 L727.3,409.6 L727.7,407.6 L728.2,405.7 L728.6,403.7 L729.1,401.8 L729.5,399.8 L730.0,397.9 L730.4,395.9 L730.9,394.0 L731.4,392.0 L731.9,390.1 L732.3,388.2 L732.8,386.2 L733.3,384.3 L733.8,382.4 L734.3,380.4 L734.8,378.5 L735.3,376.6 L735.8,374.7 L736.3,372.8 L736.9,370.8 L737.4,368.9 L737.9,367.0 L738.5,365.1 L739.0,363.2 L739.6,361.3 L740.1,359.4 L740.7,357.5 L741.3,355.6 L741.9,353.7 L742.4,351.8 L743.0,349.9 L743.6,348.0 L744.3,346.1 L744.9,344.3 L745.5,342.4 L746.1,340.5 L746.8,338.6 L747.4,336.7 L748.1,334.9 L748.8,333.0 L749.5,331.1 L750.1,329.3 L750.8,327.4 L751.6,325.5 L752.3,323.7 L753.0,321.8 L753.8,319.9 L754.5,318.1 L755.3,316.2 L756.1,314.4 L756.8,312.5 L757.6,310.6 L758.4,308.8 L759.3,306.9 L760.1,305.1 L761.0,303.2 L761.8,301.4 L762.7,299.5 L763.6,297.7 L764.5,295.8 L765.4,294.0 L766.3,292.1 L767.2,290.3 L768.2,288.5 L769.2,286.6 L770.2,284.8 L771.2,282.9 L772.2,281.1 L773.2,279.4 L774.3,277.6 L775.4,275.9 L776.6,274.3 L777.8,272.7 L779.1,271.2 L780.4,269.8 L781.7,268.4 L783.1,267.2 L784.6,266.1 L786.2,265.0 L787.8,264.1 L789.5,263.4 L791.2,262.7 L793.1,262.2 L795.0,261.9 L797.0,261.8 L799.0,261.9 L800.9,262.3 L802.6,263.0 L804.2,264.0 L805.7,265.3 L807.1,266.7 L808.4,268.2 L809.8,269.7 L811.1,271.3 L812.3,272.9 L813.6,274.6 L814.8,276.3 L815.9,278.0 L817.0,279.8 L818.1,281.5 L819.2,283.3 L820.2,285.1 L821.1,286.9 L822.1,288.7 L823.0,290.5 L823.8,292.3 L824.7,294.2 L825.5,296.0 L826.2,297.9 L827.0,299.7 L827.7,301.6 L828.4,303.5 L829.1,305.3 L829.7,307.2 L830.4,309.1 L831.0,311.0 L831.6,312.9 L832.2,314.9 L832.7,316.8 L833.3,318.7 L833.8,320.6 L834.4,322.5 L834.9,324.5 L835.4,326.4 L835.9,328.3 L836.4,330.3 L836.9,332.2 L837.4,334.1 L837.9,336.1 L838.4,338.0 L838.9,340.0 L839.4,341.9 L839.9,343.8 L840.4,345.8 L840.9,347.7 L841.3,349.7 L841.8,351.6 L842.3,353.5 L842.8,355.5 L843.2,357.4 L843.7,359.4 L844.2,361.3 L844.6,363.3 L845.1,365.2 L845.6,367.2 L846.0,369.1 L846.5,371.0 L846.9,373.0 L847.4,374.9 L847.8,376.9 L848.3,378.8 L848.7,380.8 L849.1,382.7 L849.6,384.7 L850.0,386.6 L850.5,388.6 L850.9,390.5 L851.3,392.5 L851.8,394.4 L852.2,396.4 L852.6,398.3 L853.0,400.3 L853.4,402.3 L853.9,404.2 L854.3,406.2 L854.7,408.1 L855.1,410.1 L855.5,412.0 L855.9,414.0 L856.3,415.9 L856.7,417.9 L857.1,419.9 L857.5,421.8 L857.9,423.8 L858.3,425.7 L858.7,427.7 L859.1,429.7 L859.5,431.6 L859.9,433.6 L860.3,435.5 L860.7,437.5 L861.0,439.5 L861.4,441.4 L861.8,443.4 L862.2,445.4 L862.6,447.3 L862.9,449.3 L863.3,451.2 L863.7,453.2 L864.0,455.2 L864.4,457.1 L864.8,459.1 L865.1,461.1 L865.5,463.0 L865.8,465.0 L866.2,467.0 L866.6,468.9 L866.9,470.9 L867.3,472.9 L867.6,474.9 L868.0,476.8 L868.3,478.8 L868.6,480.8 L869.0,482.7 L869.3,484.7 L869.7,486.7 L870.0,488.6 L870.3,490.6 L870.7,492.6 L871.0,494.6 L871.3,496.5 L871.7,498.5 L872.0,500.5 L872.3,502.5 L872.7,504.4 L873.0,506.4 L873.3,508.4 L873.6,510.4 L873.9,512.3 L874.3,514.3 L874.6,516.3 L874.9,518.3 L875.2,520.2 L875.5,522.2 L875.8,524.2 L876.1,526.2 L876.4,528.1 L876.7,530.1 L877.1,532.1 L877.4,534.1 L877.7,536.1 L878.0,538.0 L878.3,540.0 L878.6,542.0 L878.8,544.0 L879.1,546.0 L879.4,547.9 L879.7,549.9 L880.0,551.9 L880.3,553.9 L880.6,555.9 L880.9,557.9 L881.2,559.8 L881.5,561.8 L881.7,563.8 L882.0,565.8 L882.3,567.8 L882.6,569.8 L882.9,571.7 L883.1,573.7 L883.4,575.7 L883.7,577.7 L884.0,579.7 L884.2,581.7 L884.5,583.6 L884.8,585.6 L885.0,587.6 L885.3,589.6 L885.6,591.6 L885.8,593.6 L886.1,595.6 L886.4,597.5 L886.6,599.5 L886.9,601.5 L887.1,603.5 L887.4,605.5 L887.7,607.5 L887.9,609.5 L888.2,611.5 L888.4,613.4 L888.7,615.4 L888.9,617.4 L889.2,619.4 L889.4,621.4 L889.7,623.4 L889.9,625.4 L890.2,627.4 L890.4,629.4 L890.7,631.3 L890.9,633.3 L891.2,635.3 L891.4,637.3 L891.7,639.3 L891.9,641.3 L892.1,643.3 L892.4,645.3 L892.6,647.3 L892.9,649.3 L893.1,651.2 L893.3,653.2 L893.6,655.2 L893.8,657.2 L894.0,659.2 L894.3,661.2 L894.5,663.2 L894.7,665.2 L895.0,667.2 L895.2,669.2 L895.4,671.2 L895.7,673.2 L895.9,675.2 L896.1,677.1 L896.3,679.1 L896.6,681.1 L896.8,683.1 L897.0,685.1 L897.2,687.1 L897.5,689.1 L897.7,691.1 L897.9,693.1 L898.1,695.1 L898.4,697.1 L898.6,699.1 L898.8,701.1 L899.0,703.1 L899.2,705.0 L899.5,707.0 L899.7,709.0 L899.9,711.0 L900.1,713.0 L900.3,715.0 L900.6,717.0 L900.8,719.0 L901.0,721.0 L901.2,723.0 L901.4,725.0 L901.6,727.0 L901.8,729.0 L902.1,731.0 L902.3,733.0 L902.5,735.0 L902.7,737.0 L902.9,739.0 L903.1,740.9 L903.3,742.9 L903.5,744.9 L903.7,746.9 L904.0,748.9 L904.2,750.9 L904.4,752.9 L904.6,754.9 L904.8,756.9 L905.0,758.9 L905.2,760.9 L905.4,762.9 L905.6,764.9 L905.8,766.9 L906.0,768.9 L906.3,770.9 L906.5,772.9 L906.7,774.9 L906.9,776.8 L907.1,778.8 L907.3,780.8 L907.5,782.8 L907.7,784.8 L907.9,786.8 L908.1,788.8 L908.3,790.8 L908.5,792.8 L908.7,794.8 L908.9,796.8 L909.1,798.8 L909.4,800.8 L909.6,802.8 L909.8,804.8 L910.0,806.8 L910.2,808.8 L910.4,810.7 L910.6,812.7 L910.8,814.7 L911.0,816.7 L911.2,818.7 L911.4,820.7 L911.6,822.7 L911.8,824.7 L912.0,826.7 L912.2,828.7 L912.4,830.7 L912.6,832.7 L912.9,834.7 L913.1,836.7 L913.3,838.6 L913.5,840.6 L913.7,842.6 L913.9,844.6 L914.1,846.6 L914.3,848.6 L914.5,850.6 L914.7,852.6 L914.9,854.6 L915.1,856.6 L915.3,858.6 L915.5,860.6 L915.8,862.5 L916.0,864.5 L916.2,866.5 L916.4,868.5 L916.6,870.5 L916.8,872.5 L917.0,874.5 L917.2,876.5 L917.4,878.5 L917.6,880.5 L917.8,882.5 L918.0,884.4 L918.2,886.4 L918.4,888.4 L918.7,890.4 L918.9,892.4 L919.1,894.4 L919.3,896.4 L919.5,898.4 L919.7,900.4 L919.9,902.4 L920.1,904.4 L920.3,906.3 L920.5,908.3 L920.7,910.3 L920.9,912.3 L921.1,914.3 L921.3,916.3 L921.5,918.3 L921.8,920.3 L922.0,922.3 L922.2,924.3 L922.4,926.2 L922.6,928.2 L922.8,930.2 L923.0,932.2 L923.2,934.2 L923.4,936.2 L923.6,938.2 L923.8,940.2 L924.0,942.2 L924.2,944.2 L924.4,946.1 L924.6,948.1 L924.8,950.1 L925.0,952.1 L925.2,954.1 L925.4,956.1 L925.6,958.1 L925.8,960.1 L926.0,962.1 L926.2,964.1 L926.4,966.0 L926.6,968.0 L926.8,970.0 L927.0,972.0 L927.2,974.0 L927.4,976.0 L927.6,978.0 L927.8,980.0 L928.0,982.0 L928.2,984.0 L928.4,986.0 L928.6,987.9 L928.8,989.9 L929.0,991.9 L929.2,993.9 L929.4,995.9 L929.6,997.9 L929.8,999.9 L930.0,1001.9 L930.2,1003.9 L930.4,1005.9 L930.6,1007.8 L930.8,1009.8 L931.0,1011.8 L931.2,1013.8 L931.4,1015.8 L931.6,1017.8 L931.7,1019.8 L931.9,1021.8 L932.1,1023.8 L932.3,1025.8 L932.5,1027.8 L932.7,1029.8 L932.9,1031.7 L933.1,1033.7 L933.3,1035.7 L933.5,1037.7 L933.6,1039.7 L933.8,1041.7 L934.0,1043.7 L934.2,1045.7 L934.4,1047.7 L934.6,1049.7 L934.8,1051.7 L934.9,1053.7 L935.1,1055.7 L935.3,1057.6 L935.5,1059.6 L935.7,1061.6 L935.8,1063.6 L936.0,1065.6 L936.2,1067.6 L936.4,1069.6 L936.6,1071.6 L936.7,1073.6 L936.9,1075.6 L937.1,1077.6 L937.3,1079.6 L937.5,1081.6 L937.6,1083.6 L937.8,1085.6 L938.0,1087.6 L938.2,1089.6 L938.3,1091.5 L938.5,1093.5 L938.7,1095.5 L938.8,1097.5 L939.0,1099.5 L939.2,1101.5 L939.4,1103.5 L939.5,1105.5 L939.7,1107.5 L939.9,1109.5 L940.0,1111.5 L940.2,1113.5 L940.4,1115.5 L940.5,1117.5 L940.7,1119.5 L940.9,1121.5 L941.0,1123.5 L941.2,1125.5 L941.3,1127.5 L941.5,1129.5 L941.7,1131.5 L941.8,1133.5 L942.0,1135.5 L942.1,1137.5 L942.3,1139.5 L942.4,1141.5 L942.6,1143.5 L942.8,1145.5 L942.9,1147.5 L943.1,1149.5 L943.2,1151.5 L943.4,1153.5 L943.5,1155.5 L943.7,1157.5 L943.8,1159.5 L944.0,1161.5 L944.1,1163.5 L944.3,1165.5 L944.5,1167.5 L944.6,1169.5 L944.8,1171.5 L944.9,1173.5 L945.1,1175.5 L945.3,1177.5 L945.4,1179.5 L945.6,1181.5 L945.8,1183.5 L946.0,1185.5 L946.1,1187.5 L946.3,1189.4 L946.5,1191.4 L946.7,1193.4 L946.9,1195.4 L947.1,1197.4 L947.3,1199.4 L947.5,1201.4 L947.7,1203.4 L947.9,1205.4 L948.1,1207.4 L948.3,1209.4 L948.5,1211.4 L948.8,1213.4 L949.0,1215.4 L949.2,1217.3 L949.5,1219.3 L949.7,1221.3 L950.0,1223.3 L950.2,1225.3 L950.5,1227.3 L950.8,1229.3 L951.0,1231.2 L951.3,1233.2 L951.6,1235.2 L951.9,1237.2 L952.2,1239.2 L952.5,1241.1 L952.8,1243.1 L953.1,1245.1 L953.5,1247.1 L953.8,1249.0 L954.2,1251.0 L954.5,1253.0 L954.9,1255.0 L955.2,1256.9 L955.6,1258.9 L956.0,1260.9 L956.4,1262.8 L956.8,1264.8 L957.2,1266.7 L957.6,1268.7 L958.1,1270.7 L958.5,1272.6 L959.0,1274.6 L959.4,1276.5 L959.9,1278.5 L960.0,1280.5 L1247.0,1280.5 L1248.9,1279.7 L1250.8,1279.0 L1252.7,1278.3 L1254.7,1277.6 L1256.6,1277.0 L1258.6,1276.4 L1260.5,1275.8 L1262.5,1275.3 L1264.4,1274.7 L1266.4,1274.2 L1268.3,1273.7 L1270.3,1273.2 L1272.3,1272.7 L1274.3,1272.3 L1276.3,1271.9 L1278.3,1271.5 L1280.3,1271.1 L1282.3,1270.7 L1284.3,1270.4 L1286.3,1270.0 L1288.3,1269.7 L1290.3,1269.4 L1292.3,1269.2 L1294.4,1268.9 L1296.4,1268.7 L1298.4,1268.5 L1300.4,1268.3 L1302.5,1268.1 L1304.5,1267.9 L1306.6,1267.8 L1308.6,1267.7 L1310.6,1267.6 L1312.7,1267.5 L1314.7,1267.4 L1316.8,1267.4 L1318.8,1267.4 L1320.8,1267.4 L1322.9,1267.4 L1324.9,1267.4 L1327.0,1267.4 L1329.0,1267.5 L1331.1,1267.6 L1333.1,1267.6 L1335.2,1267.8 L1337.2,1267.9 L1339.2,1268.0 L1341.3,1268.2 L1343.3,1268.4 L1345.4,1268.5 L1347.4,1268.8 L1349.4,1269.0 L1351.5,1269.2 L1353.5,1269.5 L1355.5,1269.8 L1357.5,1270.0 L1359.6,1270.3 L1361.6,1270.7 L1363.6,1271.0 L1365.6,1271.4 L1367.6,1271.7 L1369.6,1272.1 L1371.6,1272.5 L1373.6,1272.9 L1375.6,1273.3 L1377.6,1273.8 L1379.6,1274.2 L1381.5,1274.7 L1383.5,1275.2 L1385.5,1275.7 L1387.4,1276.2 L1389.4,1276.7 L1391.4,1277.3 L1393.3,1277.8 L1395.2,1278.4 L1397.2,1279.0 L1399.1,1279.6 L1401.0,1280.5 L1908.0,1280.5" fill="none" stroke="#00f" stroke-width="8.5" stroke-linejoin="round" stroke-linecap="round"/>
<path d="M581.5,261 H800 M593,417.5 H812 M676.3,417.5 V285" stroke="#111" stroke-width="4.0" fill="none"/>
<path d="M676.3,261.5 L667.5,293 L676.3,289 L685.1,293 Z" fill="#000"/>
<path d="M1226.6,1108 V1250" stroke="#000" stroke-width="4.0"/>
<path d="M1226.6,1275.5 L1217.4,1243.8 L1226.6,1246.3 L1235.8,1243.8 Z" fill="#000"/>
<path d="M1637,1120.8 H1852.5" stroke="#444" stroke-width="5" stroke-linecap="round"/>
<path d="M1816,1121 V1255" stroke="#000" stroke-width="4.0"/>
<path d="M1816,1280 L1807.5,1250.5 L1816,1254.5 L1824.5,1250.5 Z" fill="#000"/>
<path d="M1527,716.1 H1647" stroke="#000" stroke-width="9" stroke-linecap="round"/>
<path d="M1527,788.9 H1647" stroke="#f00" stroke-width="9" stroke-linecap="round"/>
<path d="M1527,861.1 H1647" stroke="#0f0" stroke-width="9" stroke-linecap="round"/>
<path d="M1527,933.8 H1647" stroke="#00f" stroke-width="9" stroke-linecap="round"/>
</g>
<g font-family="Liberation Serif, serif" fill="#000">
<text x="217.3" y="1298.5" font-size="66">0</text>
<text x="151.3" y="1057.5" font-size="66">200</text>
<text x="151.3" y="816.5" font-size="66">400</text>
<text x="151.3" y="575.5" font-size="66">600</text>
<text x="151.3" y="334.5" font-size="66">800</text>
<text x="118.3" y="93.5" font-size="66">1000</text>
<text x="216.5" y="1354.0" font-size="66">0.01</text>
<text x="557.0" y="1354.0" font-size="66">0.1</text>
<text x="908.2" y="1354.0" font-size="66">1</text>
<text x="1216.0" y="1354.0" font-size="66">10</text>
<text x="1522.5" y="1354.0" font-size="66">100</text>
<text x="1829.2" y="1354.0" font-size="66">1000</text>
<text x="880.4" y="278.5" font-size="66">main peak</text>
<text x="437.0" y="378.6" font-size="66">increase</text>
<text x="1099.5" y="1088.2" font-size="66">sub peak 1</text>
<text x="1487.3" y="1104.5" font-size="66">sub peak 2</text>
<text x="1845.5" y="1214.9" font-size="66">decrease</text>
<text x="1677.5" y="738.2" font-size="61"><tspan font-style="italic">K</tspan>=80%</text>
<text x="1677.5" y="810.6" font-size="61"><tspan font-style="italic">K</tspan>=90%</text>
<text x="1677.5" y="883.2" font-size="61"><tspan font-style="italic">K</tspan>=95%</text>
<text x="1677.5" y="955.7" font-size="61"><tspan font-style="italic">K</tspan>=100%</text>
<text transform="translate(86,915.3) rotate(-90)" font-size="76">Signal intensity</text>
<text x="997.0" y="1471.7" font-size="76"><tspan font-style="italic">T</tspan><tspan font-style="italic" font-size="50" dy="19.3">2</tspan><tspan font-style="italic" font-size="82" x="1068.7" dy="-19.3">/</tspan><tspan x="1087.5">ms</tspan></text>
</g>
</svg>
</div></body></html>
